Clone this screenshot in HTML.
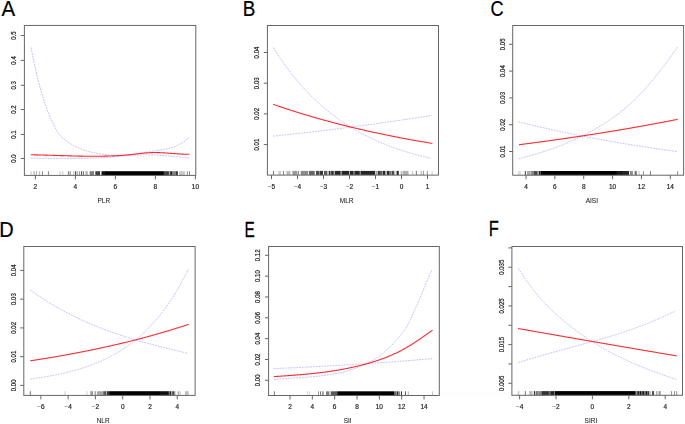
<!DOCTYPE html><html><head><meta charset="utf-8"><style>html,body{margin:0;padding:0;background:#fff;width:685px;height:424px;overflow:hidden}body{position:relative}svg{display:block}#m{will-change:transform;position:absolute;left:0;top:0}</style></head><body>
<svg id="l" xmlns="http://www.w3.org/2000/svg" width="685" height="424" viewBox="0 0 685 424"><text x="0" y="0" transform="translate(1.400 15.700) scale(0.20455 0.21594)" font-family='"Liberation Sans", sans-serif' font-size="100" fill="#000" stroke="#000" stroke-width="0.98">A</text><text x="0" y="0" transform="translate(242.791 15.500) scale(0.18868 0.21884)" font-family='"Liberation Sans", sans-serif' font-size="100" fill="#000" stroke="#000" stroke-width="1.06">B</text><text x="0" y="0" transform="translate(490.595 16.377) scale(0.18095 0.22254)" font-family='"Liberation Sans", sans-serif' font-size="100" fill="#000" stroke="#000" stroke-width="1.11">C</text><text x="0" y="0" transform="translate(-0.800 237.100) scale(0.20000 0.21884)" font-family='"Liberation Sans", sans-serif' font-size="100" fill="#000" stroke="#000" stroke-width="1.00">D</text><text x="0" y="0" transform="translate(244.570 236.600) scale(0.15370 0.22609)" font-family='"Liberation Sans", sans-serif' font-size="100" fill="#000" stroke="#000" stroke-width="1.30">E</text><text x="0" y="0" transform="translate(488.678 235.900) scale(0.16531 0.21739)" font-family='"Liberation Sans", sans-serif' font-size="100" fill="#000" stroke="#000" stroke-width="1.21">F</text></svg>
<svg id="m" xmlns="http://www.w3.org/2000/svg" width="685" height="424" viewBox="0 0 685 424">
<g><rect x="30" y="171.20" width="1" height="4.20" fill="#000" fill-opacity="0.09"/><rect x="31" y="171.20" width="1" height="4.20" fill="#000" fill-opacity="0.14"/><rect x="33" y="171.20" width="1" height="4.20" fill="#000" fill-opacity="0.16"/><rect x="34" y="171.20" width="1" height="4.20" fill="#000" fill-opacity="0.23"/><rect x="35" y="171.20" width="1" height="4.20" fill="#000" fill-opacity="0.01"/><rect x="36" y="171.20" width="1" height="4.20" fill="#000" fill-opacity="0.30"/><rect x="37" y="171.20" width="2" height="4.20" fill="#000" fill-opacity="0.02"/><rect x="39" y="171.20" width="1" height="4.20" fill="#000" fill-opacity="0.26"/><rect x="40" y="171.20" width="1" height="4.20" fill="#000" fill-opacity="0.05"/><rect x="42" y="171.20" width="1" height="4.20" fill="#000" fill-opacity="0.45"/><rect x="47" y="171.20" width="1" height="4.20" fill="#000" fill-opacity="0.03"/><rect x="48" y="171.20" width="1" height="4.20" fill="#000" fill-opacity="0.43"/><rect x="59" y="171.20" width="2" height="4.20" fill="#000" fill-opacity="0.11"/><rect x="62" y="171.20" width="1" height="4.20" fill="#000" fill-opacity="0.16"/><rect x="63" y="171.20" width="1" height="4.20" fill="#000" fill-opacity="0.06"/><rect x="67" y="171.20" width="1" height="4.20" fill="#000" fill-opacity="0.03"/><rect x="68" y="171.20" width="1" height="4.20" fill="#000" fill-opacity="0.47"/><rect x="69" y="171.20" width="1" height="4.20" fill="#000" fill-opacity="0.19"/><rect x="70" y="171.20" width="1" height="4.20" fill="#000" fill-opacity="0.30"/><rect x="73" y="171.20" width="1" height="4.20" fill="#000" fill-opacity="0.21"/><rect x="74" y="171.20" width="1" height="4.20" fill="#000" fill-opacity="0.05"/><rect x="75" y="171.20" width="1" height="4.20" fill="#000" fill-opacity="0.68"/><rect x="76" y="171.20" width="1" height="4.20" fill="#000" fill-opacity="0.18"/><rect x="77" y="171.20" width="1" height="4.20" fill="#000" fill-opacity="0.27"/><rect x="78" y="171.20" width="1" height="4.20" fill="#000" fill-opacity="0.08"/><rect x="79" y="171.20" width="1" height="4.20" fill="#000" fill-opacity="0.38"/><rect x="80" y="171.20" width="1" height="4.20" fill="#000" fill-opacity="0.04"/><rect x="81" y="171.20" width="1" height="4.20" fill="#000" fill-opacity="0.64"/><rect x="82" y="171.20" width="1" height="4.20" fill="#000" fill-opacity="0.12"/><rect x="83" y="171.20" width="1" height="4.20" fill="#000" fill-opacity="0.47"/><rect x="84" y="171.20" width="1" height="4.20" fill="#000" fill-opacity="0.06"/><rect x="85" y="171.20" width="1" height="4.20" fill="#000" fill-opacity="0.18"/><rect x="86" y="171.20" width="1" height="4.20" fill="#000" fill-opacity="0.29"/><rect x="87" y="171.20" width="1" height="4.20" fill="#000" fill-opacity="0.26"/><rect x="89" y="171.20" width="1" height="4.20" fill="#000" fill-opacity="0.20"/><rect x="90" y="171.20" width="4" height="4.20" fill="#000" fill-opacity="0.50"/><rect x="95" y="171.20" width="1" height="4.20" fill="#000" fill-opacity="0.53"/><rect x="96" y="171.20" width="4" height="4.20" fill="#000" fill-opacity="0.75"/><rect x="100" y="171.20" width="1" height="4.20" fill="#000" fill-opacity="0.07"/><rect x="101" y="171.20" width="1" height="4.20" fill="#000" fill-opacity="0.46"/><rect x="102" y="171.20" width="3" height="4.20" fill="#000" fill-opacity="0.92"/><rect x="105" y="171.20" width="58" height="4.20" fill="#000" fill-opacity="1.00"/><rect x="163" y="171.20" width="1" height="4.20" fill="#000" fill-opacity="0.90"/><rect x="164" y="171.20" width="4" height="4.20" fill="#000" fill-opacity="0.75"/><rect x="168" y="171.20" width="1" height="4.20" fill="#000" fill-opacity="0.71"/><rect x="169" y="171.20" width="1" height="4.20" fill="#000" fill-opacity="0.35"/><rect x="170" y="171.20" width="1" height="4.20" fill="#000" fill-opacity="0.75"/><rect x="171" y="171.20" width="1" height="4.20" fill="#000" fill-opacity="0.85"/><rect x="172" y="171.20" width="4" height="4.20" fill="#000" fill-opacity="0.50"/><rect x="176" y="171.20" width="1" height="4.20" fill="#000" fill-opacity="0.79"/><rect x="177" y="171.20" width="1" height="4.20" fill="#000" fill-opacity="0.69"/><rect x="179" y="171.20" width="6" height="4.20" fill="#000" fill-opacity="0.22"/><rect x="186" y="171.20" width="1" height="4.20" fill="#000" fill-opacity="0.07"/><rect x="187" y="171.20" width="1" height="4.20" fill="#000" fill-opacity="0.38"/><rect x="189" y="171.20" width="1" height="4.20" fill="#000" fill-opacity="0.45"/><rect x="24.40" y="25.45" width="171.40" height="149.95" fill="none" stroke="#666" stroke-width="1"/><line x1="20.80" y1="158.50" x2="24.40" y2="158.50" stroke="#666" stroke-width="1"/><text transform="translate(16.20 158.50) rotate(-90) scale(1 1.12)" text-anchor="middle" font-family='"Liberation Sans", sans-serif' font-size="6.10" fill="#222" stroke="#222" stroke-width="0.18">0.0</text><line x1="20.80" y1="134.50" x2="24.40" y2="134.50" stroke="#666" stroke-width="1"/><text transform="translate(16.20 134.50) rotate(-90) scale(1 1.12)" text-anchor="middle" font-family='"Liberation Sans", sans-serif' font-size="6.10" fill="#222" stroke="#222" stroke-width="0.18">0.1</text><line x1="20.80" y1="109.50" x2="24.40" y2="109.50" stroke="#666" stroke-width="1"/><text transform="translate(16.20 109.50) rotate(-90) scale(1 1.12)" text-anchor="middle" font-family='"Liberation Sans", sans-serif' font-size="6.10" fill="#222" stroke="#222" stroke-width="0.18">0.2</text><line x1="20.80" y1="85.30" x2="24.40" y2="85.30" stroke="#666" stroke-width="1"/><text transform="translate(16.20 85.30) rotate(-90) scale(1 1.12)" text-anchor="middle" font-family='"Liberation Sans", sans-serif' font-size="6.10" fill="#222" stroke="#222" stroke-width="0.18">0.3</text><line x1="20.80" y1="60.40" x2="24.40" y2="60.40" stroke="#666" stroke-width="1"/><text transform="translate(16.20 60.40) rotate(-90) scale(1 1.12)" text-anchor="middle" font-family='"Liberation Sans", sans-serif' font-size="6.10" fill="#222" stroke="#222" stroke-width="0.18">0.4</text><line x1="20.80" y1="35.50" x2="24.40" y2="35.50" stroke="#666" stroke-width="1"/><text transform="translate(16.20 35.50) rotate(-90) scale(1 1.12)" text-anchor="middle" font-family='"Liberation Sans", sans-serif' font-size="6.10" fill="#222" stroke="#222" stroke-width="0.18">0.5</text><line x1="35.40" y1="175.40" x2="35.40" y2="179.40" stroke="#666" stroke-width="1"/><text x="35.40" y="189.10" text-anchor="middle" font-family='"Liberation Sans", sans-serif' font-size="6.50" fill="#222" stroke="#222" stroke-width="0.18">2</text><line x1="75.40" y1="175.40" x2="75.40" y2="179.40" stroke="#666" stroke-width="1"/><text x="75.40" y="189.10" text-anchor="middle" font-family='"Liberation Sans", sans-serif' font-size="6.50" fill="#222" stroke="#222" stroke-width="0.18">4</text><line x1="115.40" y1="175.40" x2="115.40" y2="179.40" stroke="#666" stroke-width="1"/><text x="115.40" y="189.10" text-anchor="middle" font-family='"Liberation Sans", sans-serif' font-size="6.50" fill="#222" stroke="#222" stroke-width="0.18">6</text><line x1="155.40" y1="175.40" x2="155.40" y2="179.40" stroke="#666" stroke-width="1"/><text x="155.40" y="189.10" text-anchor="middle" font-family='"Liberation Sans", sans-serif' font-size="6.50" fill="#222" stroke="#222" stroke-width="0.18">8</text><line x1="195.40" y1="175.40" x2="195.40" y2="179.40" stroke="#666" stroke-width="1"/><text x="195.40" y="189.10" text-anchor="middle" font-family='"Liberation Sans", sans-serif' font-size="6.50" fill="#222" stroke="#222" stroke-width="0.18">10</text><text x="103.80" y="203.20" text-anchor="middle" font-family='"Liberation Sans", sans-serif' font-size="6.50" fill="#222" stroke="#222" stroke-width="0.06">PLR</text><path d="M31.00 47.51 L31.50 49.92 L32.00 52.33 L32.50 54.74 L33.00 57.13 L33.50 59.52 L34.00 61.88 L34.50 64.22 L35.00 66.53 L35.50 68.80 L36.00 71.03 L36.50 73.22 L37.00 75.36 L37.50 77.45 L38.00 79.48 L38.50 81.46 L39.00 83.39 L39.50 85.28 L40.00 87.12 L40.50 88.91 L41.00 90.67 L41.50 92.40 L42.00 94.09 L42.50 95.75 L43.00 97.37 L43.50 98.98 L44.00 100.55 L44.50 102.11 L45.00 103.65 L45.50 105.17 L46.00 106.66 L46.50 108.11 L47.00 109.51 L47.50 110.86 L48.00 112.15 L48.50 113.37 L49.00 114.53 L49.50 115.66 L50.00 116.75 L50.50 117.82 L51.00 118.88 L51.50 119.94 L52.00 121.00 L52.50 122.08 L53.00 123.16 L53.50 124.23 L54.00 125.30 L54.50 126.35 L55.00 127.37 L55.50 128.37 L56.00 129.34 L56.50 130.27 L57.00 131.16 L57.50 132.00 L58.00 132.79 L58.50 133.51 L59.00 134.17 L59.50 134.78 L60.00 135.34 L60.50 135.86 L61.00 136.35 L61.50 136.82 L62.00 137.27 L62.50 137.71 L63.00 138.14 L63.50 138.56 L64.00 138.98 L64.50 139.38 L65.00 139.78 L65.50 140.17 L66.00 140.56 L66.50 140.93 L67.00 141.30 L67.50 141.66 L68.00 142.02 L68.50 142.36 L69.00 142.70 L69.50 143.03 L70.00 143.36 L70.50 143.68 L71.00 143.99 L71.50 144.30 L72.00 144.59 L72.50 144.89 L73.00 145.17 L73.50 145.45 L74.00 145.72 L74.50 145.99 L75.00 146.25 L75.50 146.51 L76.00 146.76 L76.50 147.00 L77.00 147.24 L77.50 147.47 L78.00 147.70 L78.50 147.92 L79.00 148.14 L79.50 148.35 L80.00 148.56 L80.50 148.76 L81.00 148.96 L81.50 149.15 L82.00 149.34 L82.50 149.52 L83.00 149.70 L83.50 149.88 L84.00 150.05 L84.50 150.21 L85.00 150.38 L85.50 150.53 L86.00 150.69 L86.50 150.84 L87.00 150.99 L87.50 151.13 L88.00 151.27 L88.50 151.41 L89.00 151.54 L89.50 151.68 L90.00 151.80 L90.50 151.93 L91.00 152.05 L91.50 152.17 L92.00 152.29 L92.50 152.40 L93.00 152.51 L93.50 152.62 L94.00 152.73 L94.50 152.84 L95.00 152.94 L95.50 153.04 L96.00 153.14 L96.50 153.24 L97.00 153.33 L97.50 153.43 L98.00 153.52 L98.50 153.61 L99.00 153.69 L99.50 153.78 L100.00 153.86 L100.50 153.94 L101.00 154.02 L101.50 154.10 L102.00 154.17 L102.50 154.25 L103.00 154.32 L103.50 154.39 L104.00 154.45 L104.50 154.52 L105.00 154.58 L105.50 154.64 L106.00 154.70 L106.50 154.75 L107.00 154.81 L107.50 154.86 L108.00 154.91 L108.50 154.95 L109.00 155.00 L109.50 155.04 L110.00 155.08 L110.50 155.12 L111.00 155.15 L111.50 155.18 L112.00 155.22 L112.50 155.24 L113.00 155.27 L113.50 155.29 L114.00 155.31 L114.50 155.33 L115.00 155.35 L115.50 155.36 L116.00 155.37 L116.50 155.38 L117.00 155.39 L117.50 155.39 L118.00 155.40 L118.50 155.40 L119.00 155.39 L119.50 155.39 L120.00 155.38 L120.50 155.37 L121.00 155.35 L121.50 155.34 L122.00 155.32 L122.50 155.30 L123.00 155.28 L123.50 155.25 L124.00 155.22 L124.50 155.19 L125.00 155.16 L125.50 155.12 L126.00 155.08 L126.50 155.04 L127.00 155.00 L127.50 154.96 L128.00 154.91 L128.50 154.86 L129.00 154.81 L129.50 154.76 L130.00 154.71 L130.50 154.65 L131.00 154.60 L131.50 154.54 L132.00 154.48 L132.50 154.42 L133.00 154.35 L133.50 154.29 L134.00 154.22 L134.50 154.15 L135.00 154.09 L135.50 154.02 L136.00 153.94 L136.50 153.87 L137.00 153.80 L137.50 153.72 L138.00 153.65 L138.50 153.57 L139.00 153.49 L139.50 153.42 L140.00 153.34 L140.50 153.26 L141.00 153.18 L141.50 153.09 L142.00 153.01 L142.50 152.93 L143.00 152.85 L143.50 152.76 L144.00 152.68 L144.50 152.60 L145.00 152.51 L145.50 152.43 L146.00 152.34 L146.50 152.26 L147.00 152.17 L147.50 152.09 L148.00 152.01 L148.50 151.92 L149.00 151.84 L149.50 151.75 L150.00 151.67 L150.50 151.58 L151.00 151.50 L151.50 151.42 L152.00 151.33 L152.50 151.25 L153.00 151.17 L153.50 151.09 L154.00 151.01 L154.50 150.93 L155.00 150.85 L155.50 150.77 L156.00 150.69 L156.50 150.62 L157.00 150.54 L157.50 150.47 L158.00 150.39 L158.50 150.32 L159.00 150.24 L159.50 150.17 L160.00 150.09 L160.50 150.01 L161.00 149.93 L161.50 149.85 L162.00 149.77 L162.50 149.69 L163.00 149.61 L163.50 149.52 L164.00 149.43 L164.50 149.34 L165.00 149.25 L165.50 149.15 L166.00 149.05 L166.50 148.95 L167.00 148.84 L167.50 148.73 L168.00 148.62 L168.50 148.50 L169.00 148.38 L169.50 148.25 L170.00 148.12 L170.50 147.98 L171.00 147.84 L171.50 147.69 L172.00 147.54 L172.50 147.38 L173.00 147.21 L173.50 147.04 L174.00 146.86 L174.50 146.68 L175.00 146.48 L175.50 146.29 L176.00 146.08 L176.50 145.86 L177.00 145.64 L177.50 145.41 L178.00 145.18 L178.50 144.93 L179.00 144.67 L179.50 144.41 L180.00 144.14 L180.50 143.86 L181.00 143.56 L181.50 143.26 L182.00 142.95 L182.50 142.63 L183.00 142.30 L183.50 141.96 L184.00 141.61 L184.50 141.24 L185.00 140.87 L185.50 140.48 L186.00 140.08 L186.50 139.68 L187.00 139.25 L187.50 138.82 L188.00 138.37 L188.50 137.92 L189.00 137.44 L189.20 137.25" fill="none" stroke="#6f6fff" stroke-width="0.9" stroke-dasharray="1.8 1" stroke-opacity="0.5"/><path d="M30.80 158.27 L31.30 158.27 L31.80 158.27 L32.30 158.26 L32.80 158.26 L33.30 158.26 L33.80 158.26 L34.30 158.26 L34.80 158.26 L35.30 158.26 L35.80 158.26 L36.30 158.26 L36.80 158.26 L37.30 158.26 L37.80 158.26 L38.30 158.26 L38.80 158.26 L39.30 158.26 L39.80 158.27 L40.30 158.27 L40.80 158.27 L41.30 158.27 L41.80 158.27 L42.30 158.28 L42.80 158.28 L43.30 158.28 L43.80 158.28 L44.30 158.29 L44.80 158.29 L45.30 158.29 L45.80 158.29 L46.30 158.30 L46.80 158.30 L47.30 158.30 L47.80 158.31 L48.30 158.31 L48.80 158.31 L49.30 158.32 L49.80 158.32 L50.30 158.33 L50.80 158.33 L51.30 158.33 L51.80 158.34 L52.30 158.34 L52.80 158.34 L53.30 158.35 L53.80 158.35 L54.30 158.36 L54.80 158.36 L55.30 158.36 L55.80 158.37 L56.30 158.37 L56.80 158.37 L57.30 158.38 L57.80 158.38 L58.30 158.38 L58.80 158.39 L59.30 158.39 L59.80 158.39 L60.30 158.40 L60.80 158.40 L61.30 158.40 L61.80 158.41 L62.30 158.41 L62.80 158.41 L63.30 158.41 L63.80 158.42 L64.30 158.42 L64.80 158.42 L65.30 158.42 L65.80 158.42 L66.30 158.43 L66.80 158.43 L67.30 158.43 L67.80 158.43 L68.30 158.43 L68.80 158.43 L69.30 158.43 L69.80 158.43 L70.30 158.43 L70.80 158.43 L71.30 158.43 L71.80 158.43 L72.30 158.43 L72.80 158.43 L73.30 158.42 L73.80 158.42 L74.30 158.42 L74.80 158.42 L75.30 158.42 L75.80 158.41 L76.30 158.41 L76.80 158.41 L77.30 158.40 L77.80 158.40 L78.30 158.39 L78.80 158.39 L79.30 158.38 L79.80 158.38 L80.30 158.37 L80.80 158.36 L81.30 158.36 L81.80 158.35 L82.30 158.34 L82.80 158.34 L83.30 158.33 L83.80 158.32 L84.30 158.31 L84.80 158.30 L85.30 158.29 L85.80 158.28 L86.30 158.27 L86.80 158.26 L87.30 158.25 L87.80 158.23 L88.30 158.22 L88.80 158.21 L89.30 158.19 L89.80 158.18 L90.30 158.17 L90.80 158.15 L91.30 158.14 L91.80 158.12 L92.30 158.10 L92.80 158.09 L93.30 158.07 L93.80 158.05 L94.30 158.03 L94.80 158.01 L95.30 157.99 L95.80 157.97 L96.30 157.95 L96.80 157.93 L97.30 157.91 L97.80 157.89 L98.30 157.86 L98.80 157.84 L99.30 157.81 L99.80 157.79 L100.30 157.76 L100.80 157.74 L101.30 157.71 L101.80 157.68 L102.30 157.65 L102.80 157.63 L103.30 157.60 L103.80 157.57 L104.30 157.53 L104.80 157.50 L105.30 157.47 L105.80 157.44 L106.30 157.40 L106.80 157.37 L107.30 157.34 L107.80 157.30 L108.30 157.26 L108.80 157.23 L109.30 157.19 L109.80 157.15 L110.30 157.11 L110.80 157.07 L111.30 157.03 L111.80 156.99 L112.30 156.95 L112.80 156.90 L113.30 156.86 L113.80 156.82 L114.30 156.77 L114.80 156.73 L115.30 156.68 L115.80 156.64 L116.30 156.59 L116.80 156.55 L117.30 156.50 L117.80 156.46 L118.30 156.41 L118.80 156.36 L119.30 156.32 L119.80 156.27 L120.30 156.23 L120.80 156.18 L121.30 156.14 L121.80 156.09 L122.30 156.05 L122.80 156.00 L123.30 155.96 L123.80 155.91 L124.30 155.87 L124.80 155.83 L125.30 155.79 L125.80 155.74 L126.30 155.70 L126.80 155.66 L127.30 155.62 L127.80 155.58 L128.30 155.55 L128.80 155.51 L129.30 155.47 L129.80 155.44 L130.30 155.40 L130.80 155.37 L131.30 155.34 L131.80 155.31 L132.30 155.28 L132.80 155.25 L133.30 155.22 L133.80 155.19 L134.30 155.16 L134.80 155.14 L135.30 155.11 L135.80 155.09 L136.30 155.07 L136.80 155.05 L137.30 155.03 L137.80 155.01 L138.30 154.99 L138.80 154.97 L139.30 154.96 L139.80 154.94 L140.30 154.93 L140.80 154.91 L141.30 154.90 L141.80 154.89 L142.30 154.88 L142.80 154.87 L143.30 154.86 L143.80 154.86 L144.30 154.85 L144.80 154.85 L145.30 154.84 L145.80 154.84 L146.30 154.84 L146.80 154.84 L147.30 154.84 L147.80 154.84 L148.30 154.84 L148.80 154.84 L149.30 154.85 L149.80 154.85 L150.30 154.86 L150.80 154.87 L151.30 154.88 L151.80 154.89 L152.30 154.90 L152.80 154.91 L153.30 154.92 L153.80 154.94 L154.30 154.95 L154.80 154.97 L155.30 154.99 L155.80 155.01 L156.30 155.03 L156.80 155.05 L157.30 155.07 L157.80 155.09 L158.30 155.11 L158.80 155.14 L159.30 155.17 L159.80 155.19 L160.30 155.22 L160.80 155.25 L161.30 155.28 L161.80 155.31 L162.30 155.34 L162.80 155.38 L163.30 155.41 L163.80 155.45 L164.30 155.49 L164.80 155.52 L165.30 155.56 L165.80 155.60 L166.30 155.64 L166.80 155.69 L167.30 155.73 L167.80 155.77 L168.30 155.82 L168.80 155.86 L169.30 155.91 L169.80 155.96 L170.30 156.01 L170.80 156.06 L171.30 156.11 L171.80 156.16 L172.30 156.21 L172.80 156.26 L173.30 156.31 L173.80 156.36 L174.30 156.41 L174.80 156.47 L175.30 156.52 L175.80 156.57 L176.30 156.63 L176.80 156.68 L177.30 156.73 L177.80 156.79 L178.30 156.84 L178.80 156.90 L179.30 156.95 L179.80 157.01 L180.30 157.06 L180.80 157.11 L181.30 157.17 L181.80 157.22 L182.30 157.27 L182.80 157.33 L183.30 157.38 L183.80 157.43 L184.30 157.48 L184.80 157.54 L185.30 157.59 L185.80 157.64 L186.30 157.69 L186.80 157.74 L187.30 157.78 L187.80 157.83 L188.30 157.88 L188.80 157.93 L189.20 157.96" fill="none" stroke="#6f6fff" stroke-width="0.9" stroke-dasharray="1.8 1" stroke-opacity="0.5"/><path d="M30.80 154.76 L31.30 154.77 L31.80 154.78 L32.30 154.79 L32.80 154.80 L33.30 154.81 L33.80 154.82 L34.30 154.83 L34.80 154.84 L35.30 154.85 L35.80 154.86 L36.30 154.87 L36.80 154.88 L37.30 154.89 L37.80 154.91 L38.30 154.92 L38.80 154.93 L39.30 154.94 L39.80 154.96 L40.30 154.97 L40.80 154.98 L41.30 154.99 L41.80 155.01 L42.30 155.02 L42.80 155.03 L43.30 155.05 L43.80 155.06 L44.30 155.08 L44.80 155.09 L45.30 155.11 L45.80 155.12 L46.30 155.14 L46.80 155.15 L47.30 155.17 L47.80 155.18 L48.30 155.20 L48.80 155.21 L49.30 155.23 L49.80 155.24 L50.30 155.26 L50.80 155.27 L51.30 155.29 L51.80 155.31 L52.30 155.32 L52.80 155.34 L53.30 155.35 L53.80 155.37 L54.30 155.39 L54.80 155.40 L55.30 155.42 L55.80 155.43 L56.30 155.45 L56.80 155.47 L57.30 155.48 L57.80 155.50 L58.30 155.51 L58.80 155.53 L59.30 155.55 L59.80 155.56 L60.30 155.58 L60.80 155.59 L61.30 155.61 L61.80 155.63 L62.30 155.64 L62.80 155.66 L63.30 155.67 L63.80 155.69 L64.30 155.71 L64.80 155.72 L65.30 155.74 L65.80 155.75 L66.30 155.77 L66.80 155.78 L67.30 155.80 L67.80 155.81 L68.30 155.83 L68.80 155.84 L69.30 155.86 L69.80 155.87 L70.30 155.88 L70.80 155.90 L71.30 155.91 L71.80 155.92 L72.30 155.94 L72.80 155.95 L73.30 155.96 L73.80 155.98 L74.30 155.99 L74.80 156.00 L75.30 156.01 L75.80 156.03 L76.30 156.04 L76.80 156.05 L77.30 156.06 L77.80 156.07 L78.30 156.08 L78.80 156.09 L79.30 156.10 L79.80 156.11 L80.30 156.12 L80.80 156.13 L81.30 156.14 L81.80 156.15 L82.30 156.16 L82.80 156.17 L83.30 156.18 L83.80 156.18 L84.30 156.19 L84.80 156.20 L85.30 156.21 L85.80 156.21 L86.30 156.22 L86.80 156.22 L87.30 156.23 L87.80 156.23 L88.30 156.24 L88.80 156.24 L89.30 156.25 L89.80 156.25 L90.30 156.25 L90.80 156.26 L91.30 156.26 L91.80 156.26 L92.30 156.26 L92.80 156.26 L93.30 156.26 L93.80 156.26 L94.30 156.26 L94.80 156.26 L95.30 156.26 L95.80 156.26 L96.30 156.26 L96.80 156.26 L97.30 156.25 L97.80 156.25 L98.30 156.25 L98.80 156.24 L99.30 156.24 L99.80 156.23 L100.30 156.23 L100.80 156.22 L101.30 156.21 L101.80 156.20 L102.30 156.20 L102.80 156.19 L103.30 156.18 L103.80 156.17 L104.30 156.16 L104.80 156.15 L105.30 156.14 L105.80 156.12 L106.30 156.11 L106.80 156.10 L107.30 156.09 L107.80 156.07 L108.30 156.06 L108.80 156.04 L109.30 156.02 L109.80 156.01 L110.30 155.99 L110.80 155.97 L111.30 155.95 L111.80 155.94 L112.30 155.92 L112.80 155.89 L113.30 155.87 L113.80 155.85 L114.30 155.83 L114.80 155.81 L115.30 155.78 L115.80 155.76 L116.30 155.73 L116.80 155.71 L117.30 155.68 L117.80 155.65 L118.30 155.62 L118.80 155.59 L119.30 155.56 L119.80 155.53 L120.30 155.50 L120.80 155.47 L121.30 155.44 L121.80 155.41 L122.30 155.37 L122.80 155.34 L123.30 155.30 L123.80 155.26 L124.30 155.22 L124.80 155.18 L125.30 155.14 L125.80 155.10 L126.30 155.06 L126.80 155.02 L127.30 154.97 L127.80 154.93 L128.30 154.88 L128.80 154.83 L129.30 154.78 L129.80 154.73 L130.30 154.67 L130.80 154.62 L131.30 154.57 L131.80 154.51 L132.30 154.45 L132.80 154.39 L133.30 154.34 L133.80 154.28 L134.30 154.22 L134.80 154.16 L135.30 154.10 L135.80 154.04 L136.30 153.98 L136.80 153.92 L137.30 153.86 L137.80 153.80 L138.30 153.74 L138.80 153.68 L139.30 153.62 L139.80 153.56 L140.30 153.51 L140.80 153.45 L141.30 153.40 L141.80 153.34 L142.30 153.29 L142.80 153.24 L143.30 153.19 L143.80 153.14 L144.30 153.09 L144.80 153.05 L145.30 153.00 L145.80 152.96 L146.30 152.92 L146.80 152.88 L147.30 152.84 L147.80 152.81 L148.30 152.78 L148.80 152.75 L149.30 152.72 L149.80 152.69 L150.30 152.67 L150.80 152.64 L151.30 152.63 L151.80 152.61 L152.30 152.59 L152.80 152.58 L153.30 152.57 L153.80 152.57 L154.30 152.56 L154.80 152.56 L155.30 152.56 L155.80 152.57 L156.30 152.57 L156.80 152.58 L157.30 152.59 L157.80 152.60 L158.30 152.61 L158.80 152.62 L159.30 152.64 L159.80 152.66 L160.30 152.68 L160.80 152.70 L161.30 152.72 L161.80 152.74 L162.30 152.77 L162.80 152.80 L163.30 152.82 L163.80 152.85 L164.30 152.88 L164.80 152.91 L165.30 152.94 L165.80 152.98 L166.30 153.01 L166.80 153.05 L167.30 153.08 L167.80 153.12 L168.30 153.15 L168.80 153.19 L169.30 153.23 L169.80 153.26 L170.30 153.30 L170.80 153.34 L171.30 153.38 L171.80 153.41 L172.30 153.45 L172.80 153.49 L173.30 153.53 L173.80 153.57 L174.30 153.61 L174.80 153.64 L175.30 153.68 L175.80 153.72 L176.30 153.75 L176.80 153.79 L177.30 153.82 L177.80 153.86 L178.30 153.89 L178.80 153.92 L179.30 153.96 L179.80 153.99 L180.30 154.02 L180.80 154.05 L181.30 154.07 L181.80 154.10 L182.30 154.13 L182.80 154.15 L183.30 154.17 L183.80 154.19 L184.30 154.21 L184.80 154.23 L185.30 154.25 L185.80 154.26 L186.30 154.27 L186.80 154.28 L187.30 154.29 L187.80 154.30 L188.30 154.31 L188.80 154.31 L189.30 154.31 L189.40 154.31" fill="none" stroke="#ff2a30" stroke-width="1.1"/></g>
<g><rect x="272" y="170.90" width="1" height="4.20" fill="#000" fill-opacity="0.03"/><rect x="273" y="170.90" width="1" height="4.20" fill="#000" fill-opacity="0.51"/><rect x="278" y="170.90" width="1" height="4.20" fill="#000" fill-opacity="0.12"/><rect x="279" y="170.90" width="2" height="4.20" fill="#000" fill-opacity="0.20"/><rect x="282" y="170.90" width="1" height="4.20" fill="#000" fill-opacity="0.03"/><rect x="283" y="170.90" width="1" height="4.20" fill="#000" fill-opacity="0.47"/><rect x="286" y="170.90" width="1" height="4.20" fill="#000" fill-opacity="0.17"/><rect x="287" y="170.90" width="3" height="4.20" fill="#000" fill-opacity="0.25"/><rect x="290" y="170.90" width="1" height="4.20" fill="#000" fill-opacity="0.15"/><rect x="292" y="170.90" width="1" height="4.20" fill="#000" fill-opacity="0.24"/><rect x="293" y="170.90" width="4" height="4.20" fill="#000" fill-opacity="0.40"/><rect x="297" y="170.90" width="1" height="4.20" fill="#000" fill-opacity="0.17"/><rect x="298" y="170.90" width="1" height="4.20" fill="#000" fill-opacity="0.45"/><rect x="300" y="170.90" width="1" height="4.20" fill="#000" fill-opacity="0.14"/><rect x="301" y="170.90" width="7" height="4.20" fill="#000" fill-opacity="0.45"/><rect x="308" y="170.90" width="1" height="4.20" fill="#000" fill-opacity="0.09"/><rect x="309" y="170.90" width="5" height="4.20" fill="#000" fill-opacity="0.60"/><rect x="314" y="170.90" width="1" height="4.20" fill="#000" fill-opacity="0.42"/><rect x="316" y="170.90" width="3" height="4.20" fill="#000" fill-opacity="0.70"/><rect x="319" y="170.90" width="1" height="4.20" fill="#000" fill-opacity="0.42"/><rect x="320" y="170.90" width="3" height="4.20" fill="#000" fill-opacity="0.80"/><rect x="324" y="170.90" width="3" height="4.20" fill="#000" fill-opacity="0.65"/><rect x="327" y="170.90" width="2" height="4.20" fill="#000" fill-opacity="0.25"/><rect x="329" y="170.90" width="1" height="4.20" fill="#000" fill-opacity="0.85"/><rect x="330" y="170.90" width="1" height="4.20" fill="#000" fill-opacity="0.47"/><rect x="331" y="170.90" width="1" height="4.20" fill="#000" fill-opacity="0.68"/><rect x="332" y="170.90" width="1" height="4.20" fill="#000" fill-opacity="0.85"/><rect x="333" y="170.90" width="1" height="4.20" fill="#000" fill-opacity="0.60"/><rect x="334" y="170.90" width="1" height="4.20" fill="#000" fill-opacity="0.35"/><rect x="335" y="170.90" width="5" height="4.20" fill="#000" fill-opacity="0.85"/><rect x="340" y="170.90" width="1" height="4.20" fill="#000" fill-opacity="0.57"/><rect x="341" y="170.90" width="1" height="4.20" fill="#000" fill-opacity="0.41"/><rect x="342" y="170.90" width="7" height="4.20" fill="#000" fill-opacity="0.85"/><rect x="349" y="170.90" width="1" height="4.20" fill="#000" fill-opacity="0.30"/><rect x="350" y="170.90" width="3" height="4.20" fill="#000" fill-opacity="0.85"/><rect x="353" y="170.90" width="2" height="4.20" fill="#000" fill-opacity="0.57"/><rect x="355" y="170.90" width="4" height="4.20" fill="#000" fill-opacity="0.85"/><rect x="359" y="170.90" width="1" height="4.20" fill="#000" fill-opacity="0.68"/><rect x="360" y="170.90" width="1" height="4.20" fill="#000" fill-opacity="0.47"/><rect x="361" y="170.90" width="14" height="4.20" fill="#000" fill-opacity="0.85"/><rect x="375" y="170.90" width="1" height="4.20" fill="#000" fill-opacity="0.20"/><rect x="376" y="170.90" width="1" height="4.20" fill="#000" fill-opacity="0.35"/><rect x="377" y="170.90" width="1" height="4.20" fill="#000" fill-opacity="0.30"/><rect x="378" y="170.90" width="2" height="4.20" fill="#000" fill-opacity="0.75"/><rect x="380" y="170.90" width="2" height="4.20" fill="#000" fill-opacity="0.65"/><rect x="382" y="170.90" width="1" height="4.20" fill="#000" fill-opacity="0.39"/><rect x="383" y="170.90" width="2" height="4.20" fill="#000" fill-opacity="0.85"/><rect x="385" y="170.90" width="1" height="4.20" fill="#000" fill-opacity="0.38"/><rect x="386" y="170.90" width="1" height="4.20" fill="#000" fill-opacity="0.24"/><rect x="387" y="170.90" width="2" height="4.20" fill="#000" fill-opacity="0.85"/><rect x="389" y="170.90" width="1" height="4.20" fill="#000" fill-opacity="0.51"/><rect x="390" y="170.90" width="1" height="4.20" fill="#000" fill-opacity="0.55"/><rect x="391" y="170.90" width="1" height="4.20" fill="#000" fill-opacity="0.36"/><rect x="392" y="170.90" width="2" height="4.20" fill="#000" fill-opacity="0.70"/><rect x="394" y="170.90" width="1" height="4.20" fill="#000" fill-opacity="0.23"/><rect x="395" y="170.90" width="1" height="4.20" fill="#000" fill-opacity="0.14"/><rect x="396" y="170.90" width="1" height="4.20" fill="#000" fill-opacity="0.34"/><rect x="397" y="170.90" width="1" height="4.20" fill="#000" fill-opacity="0.85"/><rect x="398" y="170.90" width="1" height="4.20" fill="#000" fill-opacity="0.68"/><rect x="400" y="170.90" width="1" height="4.20" fill="#000" fill-opacity="0.10"/><rect x="401" y="170.90" width="1" height="4.20" fill="#000" fill-opacity="0.25"/><rect x="402" y="170.90" width="1" height="4.20" fill="#000" fill-opacity="0.13"/><rect x="403" y="170.90" width="5" height="4.20" fill="#000" fill-opacity="0.30"/><rect x="408" y="170.90" width="1" height="4.20" fill="#000" fill-opacity="0.15"/><rect x="412" y="170.90" width="1" height="4.20" fill="#000" fill-opacity="0.19"/><rect x="413" y="170.90" width="1" height="4.20" fill="#000" fill-opacity="0.07"/><rect x="415" y="170.90" width="1" height="4.20" fill="#000" fill-opacity="0.09"/><rect x="416" y="170.90" width="1" height="4.20" fill="#000" fill-opacity="0.45"/><rect x="420" y="170.90" width="1" height="4.20" fill="#000" fill-opacity="0.09"/><rect x="421" y="170.90" width="1" height="4.20" fill="#000" fill-opacity="0.23"/><rect x="422" y="170.90" width="1" height="4.20" fill="#000" fill-opacity="0.02"/><rect x="423" y="170.90" width="1" height="4.20" fill="#000" fill-opacity="0.38"/><rect x="426" y="170.90" width="1" height="4.20" fill="#000" fill-opacity="0.07"/><rect x="427" y="170.90" width="1" height="4.20" fill="#000" fill-opacity="0.34"/><rect x="431" y="170.90" width="1" height="4.20" fill="#000" fill-opacity="0.07"/><rect x="432" y="170.90" width="1" height="4.20" fill="#000" fill-opacity="0.11"/><rect x="267.40" y="25.50" width="171.10" height="149.60" fill="none" stroke="#666" stroke-width="1"/><line x1="263.80" y1="52.50" x2="267.40" y2="52.50" stroke="#666" stroke-width="1"/><text transform="translate(258.90 52.50) rotate(-90) scale(1 1.12)" text-anchor="middle" font-family='"Liberation Sans", sans-serif' font-size="6.10" fill="#222" stroke="#222" stroke-width="0.18">0.04</text><line x1="263.80" y1="83.20" x2="267.40" y2="83.20" stroke="#666" stroke-width="1"/><text transform="translate(258.90 83.20) rotate(-90) scale(1 1.12)" text-anchor="middle" font-family='"Liberation Sans", sans-serif' font-size="6.10" fill="#222" stroke="#222" stroke-width="0.18">0.03</text><line x1="263.80" y1="113.90" x2="267.40" y2="113.90" stroke="#666" stroke-width="1"/><text transform="translate(258.90 113.90) rotate(-90) scale(1 1.12)" text-anchor="middle" font-family='"Liberation Sans", sans-serif' font-size="6.10" fill="#222" stroke="#222" stroke-width="0.18">0.02</text><line x1="263.80" y1="144.60" x2="267.40" y2="144.60" stroke="#666" stroke-width="1"/><text transform="translate(258.90 144.60) rotate(-90) scale(1 1.12)" text-anchor="middle" font-family='"Liberation Sans", sans-serif' font-size="6.10" fill="#222" stroke="#222" stroke-width="0.18">0.01</text><line x1="271.50" y1="175.10" x2="271.50" y2="179.10" stroke="#666" stroke-width="1"/><text x="271.50" y="188.80" text-anchor="middle" font-family='"Liberation Sans", sans-serif' font-size="6.50" fill="#222" stroke="#222" stroke-width="0.18"><tspan fill="#555" stroke="none">−</tspan>5</text><line x1="297.50" y1="175.10" x2="297.50" y2="179.10" stroke="#666" stroke-width="1"/><text x="297.50" y="188.80" text-anchor="middle" font-family='"Liberation Sans", sans-serif' font-size="6.50" fill="#222" stroke="#222" stroke-width="0.18"><tspan fill="#555" stroke="none">−</tspan>4</text><line x1="323.50" y1="175.10" x2="323.50" y2="179.10" stroke="#666" stroke-width="1"/><text x="323.50" y="188.80" text-anchor="middle" font-family='"Liberation Sans", sans-serif' font-size="6.50" fill="#222" stroke="#222" stroke-width="0.18"><tspan fill="#555" stroke="none">−</tspan>3</text><line x1="349.50" y1="175.10" x2="349.50" y2="179.10" stroke="#666" stroke-width="1"/><text x="349.50" y="188.80" text-anchor="middle" font-family='"Liberation Sans", sans-serif' font-size="6.50" fill="#222" stroke="#222" stroke-width="0.18"><tspan fill="#555" stroke="none">−</tspan>2</text><line x1="375.50" y1="175.10" x2="375.50" y2="179.10" stroke="#666" stroke-width="1"/><text x="375.50" y="188.80" text-anchor="middle" font-family='"Liberation Sans", sans-serif' font-size="6.50" fill="#222" stroke="#222" stroke-width="0.18"><tspan fill="#555" stroke="none">−</tspan>1</text><line x1="401.50" y1="175.10" x2="401.50" y2="179.10" stroke="#666" stroke-width="1"/><text x="401.50" y="188.80" text-anchor="middle" font-family='"Liberation Sans", sans-serif' font-size="6.50" fill="#222" stroke="#222" stroke-width="0.18">0</text><line x1="427.50" y1="175.10" x2="427.50" y2="179.10" stroke="#666" stroke-width="1"/><text x="427.50" y="188.80" text-anchor="middle" font-family='"Liberation Sans", sans-serif' font-size="6.50" fill="#222" stroke="#222" stroke-width="0.18">1</text><text x="346.65" y="202.90" text-anchor="middle" font-family='"Liberation Sans", sans-serif' font-size="6.50" fill="#222" stroke="#222" stroke-width="0.06">MLR</text><path d="M273.30 47.52 L273.80 48.31 L274.30 49.11 L274.80 49.90 L275.30 50.68 L275.80 51.46 L276.30 52.23 L276.80 53.00 L277.30 53.77 L277.80 54.53 L278.30 55.28 L278.80 56.03 L279.30 56.78 L279.80 57.52 L280.30 58.26 L280.80 58.99 L281.30 59.72 L281.80 60.44 L282.30 61.16 L282.80 61.87 L283.30 62.58 L283.80 63.29 L284.30 63.99 L284.80 64.68 L285.30 65.38 L285.80 66.07 L286.30 66.75 L286.80 67.43 L287.30 68.10 L287.80 68.78 L288.30 69.44 L288.80 70.11 L289.30 70.76 L289.80 71.42 L290.30 72.07 L290.80 72.72 L291.30 73.36 L291.80 74.00 L292.30 74.63 L292.80 75.26 L293.30 75.89 L293.80 76.51 L294.30 77.13 L294.80 77.75 L295.30 78.36 L295.80 78.97 L296.30 79.57 L296.80 80.17 L297.30 80.77 L297.80 81.36 L298.30 81.95 L298.80 82.54 L299.30 83.12 L299.80 83.70 L300.30 84.27 L300.80 84.84 L301.30 85.41 L301.80 85.97 L302.30 86.53 L302.80 87.09 L303.30 87.65 L303.80 88.20 L304.30 88.74 L304.80 89.29 L305.30 89.83 L305.80 90.36 L306.30 90.90 L306.80 91.43 L307.30 91.96 L307.80 92.48 L308.30 93.00 L308.80 93.52 L309.30 94.03 L309.80 94.54 L310.30 95.05 L310.80 95.55 L311.30 96.06 L311.80 96.55 L312.30 97.05 L312.80 97.54 L313.30 98.03 L313.80 98.52 L314.30 99.00 L314.80 99.48 L315.30 99.96 L315.80 100.43 L316.30 100.90 L316.80 101.37 L317.30 101.84 L317.80 102.30 L318.30 102.76 L318.80 103.22 L319.30 103.67 L319.80 104.12 L320.30 104.57 L320.80 105.02 L321.30 105.46 L321.80 105.90 L322.30 106.34 L322.80 106.77 L323.30 107.20 L323.80 107.63 L324.30 108.06 L324.80 108.48 L325.30 108.91 L325.80 109.32 L326.30 109.74 L326.80 110.15 L327.30 110.57 L327.80 110.97 L328.30 111.38 L328.80 111.78 L329.30 112.19 L329.80 112.58 L330.30 112.98 L330.80 113.37 L331.30 113.77 L331.80 114.15 L332.30 114.54 L332.80 114.93 L333.30 115.31 L333.80 115.69 L334.30 116.06 L334.80 116.44 L335.30 116.81 L335.80 117.18 L336.30 117.55 L336.80 117.91 L337.30 118.28 L337.80 118.64 L338.30 119.00 L338.80 119.35 L339.30 119.71 L339.80 120.06 L340.30 120.41 L340.80 120.76 L341.30 121.10 L341.80 121.45 L342.30 121.79 L342.80 122.13 L343.30 122.46 L343.80 122.80 L344.30 123.13 L344.80 123.46 L345.30 123.79 L345.80 124.12 L346.30 124.44 L346.80 124.77 L347.30 125.09 L347.80 125.41 L348.30 125.72 L348.80 126.04 L349.30 126.35 L349.80 126.66 L350.30 126.97 L350.80 127.28 L351.30 127.59 L351.80 127.89 L352.30 128.19 L352.80 128.49 L353.30 128.79 L353.80 129.08 L354.30 129.38 L354.80 129.67 L355.30 129.96 L355.80 130.25 L356.30 130.54 L356.80 130.82 L357.30 131.11 L357.80 131.39 L358.30 131.67 L358.80 131.95 L359.30 132.22 L359.80 132.50 L360.30 132.77 L360.80 133.04 L361.30 133.31 L361.80 133.58 L362.30 133.85 L362.80 134.11 L363.30 134.37 L363.80 134.63 L364.30 134.89 L364.80 135.15 L365.30 135.41 L365.80 135.66 L366.30 135.92 L366.80 136.17 L367.30 136.42 L367.80 136.67 L368.30 136.92 L368.80 137.16 L369.30 137.41 L369.80 137.65 L370.30 137.89 L370.80 138.13 L371.30 138.37 L371.80 138.61 L372.30 138.84 L372.80 139.07 L373.30 139.31 L373.80 139.54 L374.30 139.77 L374.80 140.00 L375.30 140.22 L375.80 140.45 L376.30 140.67 L376.80 140.89 L377.30 141.12 L377.80 141.33 L378.30 141.55 L378.80 141.77 L379.30 141.99 L379.80 142.20 L380.30 142.41 L380.80 142.63 L381.30 142.84 L381.80 143.05 L382.30 143.25 L382.80 143.46 L383.30 143.66 L383.80 143.87 L384.30 144.07 L384.80 144.27 L385.30 144.47 L385.80 144.67 L386.30 144.87 L386.80 145.07 L387.30 145.26 L387.80 145.46 L388.30 145.65 L388.80 145.84 L389.30 146.03 L389.80 146.22 L390.30 146.41 L390.80 146.60 L391.30 146.78 L391.80 146.97 L392.30 147.15 L392.80 147.33 L393.30 147.51 L393.80 147.69 L394.30 147.87 L394.80 148.05 L395.30 148.23 L395.80 148.40 L396.30 148.58 L396.80 148.75 L397.30 148.93 L397.80 149.10 L398.30 149.27 L398.80 149.44 L399.30 149.61 L399.80 149.77 L400.30 149.94 L400.80 150.10 L401.30 150.27 L401.80 150.43 L402.30 150.59 L402.80 150.76 L403.30 150.92 L403.80 151.07 L404.30 151.23 L404.80 151.39 L405.30 151.55 L405.80 151.70 L406.30 151.86 L406.80 152.01 L407.30 152.16 L407.80 152.31 L408.30 152.46 L408.80 152.61 L409.30 152.76 L409.80 152.91 L410.30 153.06 L410.80 153.20 L411.30 153.35 L411.80 153.49 L412.30 153.64 L412.80 153.78 L413.30 153.92 L413.80 154.06 L414.30 154.20 L414.80 154.34 L415.30 154.48 L415.80 154.61 L416.30 154.75 L416.80 154.89 L417.30 155.02 L417.80 155.15 L418.30 155.29 L418.80 155.42 L419.30 155.55 L419.80 155.68 L420.30 155.81 L420.80 155.94 L421.30 156.07 L421.80 156.20 L422.30 156.32 L422.80 156.45 L423.30 156.57 L423.80 156.70 L424.30 156.82 L424.80 156.94 L425.30 157.07 L425.80 157.19 L426.30 157.31 L426.80 157.43 L427.30 157.55 L427.80 157.66 L428.30 157.78 L428.80 157.90 L429.30 158.01 L429.80 158.13 L430.30 158.24 L430.80 158.36 L431.30 158.47 L431.40 158.49" fill="none" stroke="#6f6fff" stroke-width="0.9" stroke-dasharray="1.8 1" stroke-opacity="0.5"/><path d="M273.20 136.15 L273.70 136.10 L274.20 136.04 L274.70 135.99 L275.20 135.94 L275.70 135.89 L276.20 135.83 L276.70 135.78 L277.20 135.73 L277.70 135.67 L278.20 135.62 L278.70 135.57 L279.20 135.52 L279.70 135.46 L280.20 135.41 L280.70 135.36 L281.20 135.30 L281.70 135.25 L282.20 135.20 L282.70 135.14 L283.20 135.09 L283.70 135.03 L284.20 134.98 L284.70 134.93 L285.20 134.87 L285.70 134.82 L286.20 134.76 L286.70 134.71 L287.20 134.66 L287.70 134.60 L288.20 134.55 L288.70 134.49 L289.20 134.44 L289.70 134.38 L290.20 134.33 L290.70 134.27 L291.20 134.22 L291.70 134.16 L292.20 134.11 L292.70 134.05 L293.20 134.00 L293.70 133.94 L294.20 133.89 L294.70 133.83 L295.20 133.78 L295.70 133.72 L296.20 133.67 L296.70 133.61 L297.20 133.56 L297.70 133.50 L298.20 133.44 L298.70 133.39 L299.20 133.33 L299.70 133.27 L300.20 133.22 L300.70 133.16 L301.20 133.11 L301.70 133.05 L302.20 132.99 L302.70 132.94 L303.20 132.88 L303.70 132.82 L304.20 132.77 L304.70 132.71 L305.20 132.65 L305.70 132.59 L306.20 132.54 L306.70 132.48 L307.20 132.42 L307.70 132.37 L308.20 132.31 L308.70 132.25 L309.20 132.19 L309.70 132.13 L310.20 132.08 L310.70 132.02 L311.20 131.96 L311.70 131.90 L312.20 131.84 L312.70 131.79 L313.20 131.73 L313.70 131.67 L314.20 131.61 L314.70 131.55 L315.20 131.49 L315.70 131.44 L316.20 131.38 L316.70 131.32 L317.20 131.26 L317.70 131.20 L318.20 131.14 L318.70 131.08 L319.20 131.02 L319.70 130.96 L320.20 130.90 L320.70 130.84 L321.20 130.78 L321.70 130.72 L322.20 130.66 L322.70 130.60 L323.20 130.54 L323.70 130.48 L324.20 130.42 L324.70 130.36 L325.20 130.30 L325.70 130.24 L326.20 130.18 L326.70 130.12 L327.20 130.06 L327.70 130.00 L328.20 129.94 L328.70 129.88 L329.20 129.82 L329.70 129.76 L330.20 129.70 L330.70 129.64 L331.20 129.57 L331.70 129.51 L332.20 129.45 L332.70 129.39 L333.20 129.33 L333.70 129.27 L334.20 129.20 L334.70 129.14 L335.20 129.08 L335.70 129.02 L336.20 128.96 L336.70 128.89 L337.20 128.83 L337.70 128.77 L338.20 128.71 L338.70 128.64 L339.20 128.58 L339.70 128.52 L340.20 128.46 L340.70 128.39 L341.20 128.33 L341.70 128.27 L342.20 128.20 L342.70 128.14 L343.20 128.08 L343.70 128.01 L344.20 127.95 L344.70 127.89 L345.20 127.82 L345.70 127.76 L346.20 127.69 L346.70 127.63 L347.20 127.57 L347.70 127.50 L348.20 127.44 L348.70 127.37 L349.20 127.31 L349.70 127.25 L350.20 127.18 L350.70 127.12 L351.20 127.05 L351.70 126.99 L352.20 126.92 L352.70 126.86 L353.20 126.79 L353.70 126.73 L354.20 126.66 L354.70 126.59 L355.20 126.53 L355.70 126.46 L356.20 126.40 L356.70 126.33 L357.20 126.27 L357.70 126.20 L358.20 126.13 L358.70 126.07 L359.20 126.00 L359.70 125.94 L360.20 125.87 L360.70 125.80 L361.20 125.74 L361.70 125.67 L362.20 125.60 L362.70 125.54 L363.20 125.47 L363.70 125.40 L364.20 125.33 L364.70 125.27 L365.20 125.20 L365.70 125.13 L366.20 125.07 L366.70 125.00 L367.20 124.93 L367.70 124.86 L368.20 124.79 L368.70 124.73 L369.20 124.66 L369.70 124.59 L370.20 124.52 L370.70 124.45 L371.20 124.38 L371.70 124.32 L372.20 124.25 L372.70 124.18 L373.20 124.11 L373.70 124.04 L374.20 123.97 L374.70 123.90 L375.20 123.83 L375.70 123.76 L376.20 123.69 L376.70 123.62 L377.20 123.56 L377.70 123.49 L378.20 123.42 L378.70 123.35 L379.20 123.28 L379.70 123.21 L380.20 123.14 L380.70 123.07 L381.20 122.99 L381.70 122.92 L382.20 122.85 L382.70 122.78 L383.20 122.71 L383.70 122.64 L384.20 122.57 L384.70 122.50 L385.20 122.43 L385.70 122.36 L386.20 122.29 L386.70 122.21 L387.20 122.14 L387.70 122.07 L388.20 122.00 L388.70 121.93 L389.20 121.86 L389.70 121.78 L390.20 121.71 L390.70 121.64 L391.20 121.57 L391.70 121.49 L392.20 121.42 L392.70 121.35 L393.20 121.28 L393.70 121.20 L394.20 121.13 L394.70 121.06 L395.20 120.98 L395.70 120.91 L396.20 120.84 L396.70 120.76 L397.20 120.69 L397.70 120.62 L398.20 120.54 L398.70 120.47 L399.20 120.39 L399.70 120.32 L400.20 120.25 L400.70 120.17 L401.20 120.10 L401.70 120.02 L402.20 119.95 L402.70 119.87 L403.20 119.80 L403.70 119.72 L404.20 119.65 L404.70 119.57 L405.20 119.50 L405.70 119.42 L406.20 119.35 L406.70 119.27 L407.20 119.20 L407.70 119.12 L408.20 119.05 L408.70 118.97 L409.20 118.89 L409.70 118.82 L410.20 118.74 L410.70 118.66 L411.20 118.59 L411.70 118.51 L412.20 118.43 L412.70 118.36 L413.20 118.28 L413.70 118.20 L414.20 118.13 L414.70 118.05 L415.20 117.97 L415.70 117.89 L416.20 117.82 L416.70 117.74 L417.20 117.66 L417.70 117.58 L418.20 117.51 L418.70 117.43 L419.20 117.35 L419.70 117.27 L420.20 117.19 L420.70 117.11 L421.20 117.04 L421.70 116.96 L422.20 116.88 L422.70 116.80 L423.20 116.72 L423.70 116.64 L424.20 116.56 L424.70 116.48 L425.20 116.40 L425.70 116.32 L426.20 116.24 L426.70 116.16 L427.20 116.08 L427.70 116.00 L428.20 115.92 L428.70 115.84 L429.20 115.76 L429.70 115.68 L430.20 115.60 L430.70 115.52 L431.20 115.44 L431.70 115.36" fill="none" stroke="#6f6fff" stroke-width="0.9" stroke-dasharray="1.8 1" stroke-opacity="0.5"/><path d="M273.10 104.30 L273.60 104.47 L274.10 104.65 L274.60 104.82 L275.10 104.99 L275.60 105.17 L276.10 105.34 L276.60 105.51 L277.10 105.68 L277.60 105.85 L278.10 106.02 L278.60 106.20 L279.10 106.37 L279.60 106.53 L280.10 106.70 L280.60 106.87 L281.10 107.04 L281.60 107.21 L282.10 107.38 L282.60 107.54 L283.10 107.71 L283.60 107.88 L284.10 108.04 L284.60 108.21 L285.10 108.37 L285.60 108.54 L286.10 108.70 L286.60 108.87 L287.10 109.03 L287.60 109.20 L288.10 109.36 L288.60 109.52 L289.10 109.68 L289.60 109.84 L290.10 110.01 L290.60 110.17 L291.10 110.33 L291.60 110.49 L292.10 110.65 L292.60 110.81 L293.10 110.97 L293.60 111.13 L294.10 111.28 L294.60 111.44 L295.10 111.60 L295.60 111.76 L296.10 111.91 L296.60 112.07 L297.10 112.23 L297.60 112.38 L298.10 112.54 L298.60 112.69 L299.10 112.85 L299.60 113.00 L300.10 113.16 L300.60 113.31 L301.10 113.46 L301.60 113.62 L302.10 113.77 L302.60 113.92 L303.10 114.07 L303.60 114.22 L304.10 114.38 L304.60 114.53 L305.10 114.68 L305.60 114.83 L306.10 114.98 L306.60 115.13 L307.10 115.27 L307.60 115.42 L308.10 115.57 L308.60 115.72 L309.10 115.87 L309.60 116.01 L310.10 116.16 L310.60 116.31 L311.10 116.45 L311.60 116.60 L312.10 116.75 L312.60 116.89 L313.10 117.04 L313.60 117.18 L314.10 117.33 L314.60 117.47 L315.10 117.61 L315.60 117.76 L316.10 117.90 L316.60 118.04 L317.10 118.18 L317.60 118.33 L318.10 118.47 L318.60 118.61 L319.10 118.75 L319.60 118.89 L320.10 119.03 L320.60 119.17 L321.10 119.31 L321.60 119.45 L322.10 119.59 L322.60 119.73 L323.10 119.86 L323.60 120.00 L324.10 120.14 L324.60 120.28 L325.10 120.41 L325.60 120.55 L326.10 120.69 L326.60 120.82 L327.10 120.96 L327.60 121.09 L328.10 121.23 L328.60 121.36 L329.10 121.50 L329.60 121.63 L330.10 121.77 L330.60 121.90 L331.10 122.03 L331.60 122.16 L332.10 122.30 L332.60 122.43 L333.10 122.56 L333.60 122.69 L334.10 122.82 L334.60 122.96 L335.10 123.09 L335.60 123.22 L336.10 123.35 L336.60 123.48 L337.10 123.61 L337.60 123.73 L338.10 123.86 L338.60 123.99 L339.10 124.12 L339.60 124.25 L340.10 124.38 L340.60 124.50 L341.10 124.63 L341.60 124.76 L342.10 124.88 L342.60 125.01 L343.10 125.14 L343.60 125.26 L344.10 125.39 L344.60 125.51 L345.10 125.64 L345.60 125.76 L346.10 125.88 L346.60 126.01 L347.10 126.13 L347.60 126.25 L348.10 126.38 L348.60 126.50 L349.10 126.62 L349.60 126.74 L350.10 126.87 L350.60 126.99 L351.10 127.11 L351.60 127.23 L352.10 127.35 L352.60 127.47 L353.10 127.59 L353.60 127.71 L354.10 127.83 L354.60 127.95 L355.10 128.07 L355.60 128.19 L356.10 128.31 L356.60 128.42 L357.10 128.54 L357.60 128.66 L358.10 128.78 L358.60 128.89 L359.10 129.01 L359.60 129.13 L360.10 129.24 L360.60 129.36 L361.10 129.47 L361.60 129.59 L362.10 129.70 L362.60 129.82 L363.10 129.93 L363.60 130.05 L364.10 130.16 L364.60 130.28 L365.10 130.39 L365.60 130.50 L366.10 130.62 L366.60 130.73 L367.10 130.84 L367.60 130.95 L368.10 131.06 L368.60 131.18 L369.10 131.29 L369.60 131.40 L370.10 131.51 L370.60 131.62 L371.10 131.73 L371.60 131.84 L372.10 131.95 L372.60 132.06 L373.10 132.17 L373.60 132.28 L374.10 132.39 L374.60 132.49 L375.10 132.60 L375.60 132.71 L376.10 132.82 L376.60 132.93 L377.10 133.03 L377.60 133.14 L378.10 133.25 L378.60 133.35 L379.10 133.46 L379.60 133.57 L380.10 133.67 L380.60 133.78 L381.10 133.88 L381.60 133.99 L382.10 134.09 L382.60 134.20 L383.10 134.30 L383.60 134.41 L384.10 134.51 L384.60 134.61 L385.10 134.72 L385.60 134.82 L386.10 134.92 L386.60 135.02 L387.10 135.13 L387.60 135.23 L388.10 135.33 L388.60 135.43 L389.10 135.53 L389.60 135.63 L390.10 135.74 L390.60 135.84 L391.10 135.94 L391.60 136.04 L392.10 136.14 L392.60 136.24 L393.10 136.34 L393.60 136.44 L394.10 136.53 L394.60 136.63 L395.10 136.73 L395.60 136.83 L396.10 136.93 L396.60 137.03 L397.10 137.12 L397.60 137.22 L398.10 137.32 L398.60 137.41 L399.10 137.51 L399.60 137.61 L400.10 137.70 L400.60 137.80 L401.10 137.90 L401.60 137.99 L402.10 138.09 L402.60 138.18 L403.10 138.28 L403.60 138.37 L404.10 138.47 L404.60 138.56 L405.10 138.65 L405.60 138.75 L406.10 138.84 L406.60 138.94 L407.10 139.03 L407.60 139.12 L408.10 139.21 L408.60 139.31 L409.10 139.40 L409.60 139.49 L410.10 139.58 L410.60 139.67 L411.10 139.77 L411.60 139.86 L412.10 139.95 L412.60 140.04 L413.10 140.13 L413.60 140.22 L414.10 140.31 L414.60 140.40 L415.10 140.49 L415.60 140.58 L416.10 140.67 L416.60 140.76 L417.10 140.85 L417.60 140.93 L418.10 141.02 L418.60 141.11 L419.10 141.20 L419.60 141.29 L420.10 141.37 L420.60 141.46 L421.10 141.55 L421.60 141.64 L422.10 141.72 L422.60 141.81 L423.10 141.90 L423.60 141.98 L424.10 142.07 L424.60 142.15 L425.10 142.24 L425.60 142.33 L426.10 142.41 L426.60 142.50 L427.10 142.58 L427.60 142.66 L428.10 142.75 L428.60 142.83 L429.10 142.92 L429.60 143.00 L430.10 143.08 L430.60 143.17 L431.10 143.25 L431.60 143.33 L432.10 143.42 L432.40 143.47" fill="none" stroke="#ff2a30" stroke-width="1.1"/></g>
<g><rect x="518" y="171.00" width="3" height="4.20" fill="#000" fill-opacity="0.13"/><rect x="524" y="171.00" width="1" height="4.20" fill="#000" fill-opacity="0.13"/><rect x="525" y="171.00" width="1" height="4.20" fill="#000" fill-opacity="0.64"/><rect x="526" y="171.00" width="1" height="4.20" fill="#000" fill-opacity="0.04"/><rect x="527" y="171.00" width="3" height="4.20" fill="#000" fill-opacity="0.35"/><rect x="530" y="171.00" width="1" height="4.20" fill="#000" fill-opacity="0.23"/><rect x="531" y="171.00" width="2" height="4.20" fill="#000" fill-opacity="0.45"/><rect x="533" y="171.00" width="1" height="4.20" fill="#000" fill-opacity="0.48"/><rect x="534" y="171.00" width="3" height="4.20" fill="#000" fill-opacity="0.70"/><rect x="537" y="171.00" width="1" height="4.20" fill="#000" fill-opacity="0.49"/><rect x="538" y="171.00" width="1" height="4.20" fill="#000" fill-opacity="0.36"/><rect x="539" y="171.00" width="1" height="4.20" fill="#000" fill-opacity="0.85"/><rect x="540" y="171.00" width="1" height="4.20" fill="#000" fill-opacity="0.68"/><rect x="541" y="171.00" width="75" height="4.20" fill="#000" fill-opacity="1.00"/><rect x="616" y="171.00" width="1" height="4.20" fill="#000" fill-opacity="0.94"/><rect x="617" y="171.00" width="6" height="4.20" fill="#000" fill-opacity="0.90"/><rect x="623" y="171.00" width="6" height="4.20" fill="#000" fill-opacity="0.85"/><rect x="629" y="171.00" width="1" height="4.20" fill="#000" fill-opacity="0.09"/><rect x="630" y="171.00" width="2" height="4.20" fill="#000" fill-opacity="0.45"/><rect x="632" y="171.00" width="1" height="4.20" fill="#000" fill-opacity="0.40"/><rect x="634" y="171.00" width="1" height="4.20" fill="#000" fill-opacity="0.22"/><rect x="635" y="171.00" width="1" height="4.20" fill="#000" fill-opacity="0.55"/><rect x="636" y="171.00" width="1" height="4.20" fill="#000" fill-opacity="0.44"/><rect x="638" y="171.00" width="2" height="4.20" fill="#000" fill-opacity="0.13"/><rect x="642" y="171.00" width="1" height="4.20" fill="#000" fill-opacity="0.02"/><rect x="643" y="171.00" width="1" height="4.20" fill="#000" fill-opacity="0.38"/><rect x="649" y="171.00" width="1" height="4.20" fill="#000" fill-opacity="0.03"/><rect x="650" y="171.00" width="1" height="4.20" fill="#000" fill-opacity="0.47"/><rect x="677" y="171.00" width="1" height="4.20" fill="#000" fill-opacity="0.38"/><rect x="678" y="171.00" width="1" height="4.20" fill="#000" fill-opacity="0.02"/><rect x="512.70" y="25.50" width="170.90" height="149.70" fill="none" stroke="#666" stroke-width="1"/><line x1="509.10" y1="44.30" x2="512.70" y2="44.30" stroke="#666" stroke-width="1"/><text transform="translate(505.10 44.30) rotate(-90) scale(1 1.12)" text-anchor="middle" font-family='"Liberation Sans", sans-serif' font-size="6.10" fill="#222" stroke="#222" stroke-width="0.18">0.05</text><line x1="509.10" y1="71.10" x2="512.70" y2="71.10" stroke="#666" stroke-width="1"/><text transform="translate(505.10 71.10) rotate(-90) scale(1 1.12)" text-anchor="middle" font-family='"Liberation Sans", sans-serif' font-size="6.10" fill="#222" stroke="#222" stroke-width="0.18">0.04</text><line x1="509.10" y1="97.90" x2="512.70" y2="97.90" stroke="#666" stroke-width="1"/><text transform="translate(505.10 97.90) rotate(-90) scale(1 1.12)" text-anchor="middle" font-family='"Liberation Sans", sans-serif' font-size="6.10" fill="#222" stroke="#222" stroke-width="0.18">0.03</text><line x1="509.10" y1="124.70" x2="512.70" y2="124.70" stroke="#666" stroke-width="1"/><text transform="translate(505.10 124.70) rotate(-90) scale(1 1.12)" text-anchor="middle" font-family='"Liberation Sans", sans-serif' font-size="6.10" fill="#222" stroke="#222" stroke-width="0.18">0.02</text><line x1="509.10" y1="151.50" x2="512.70" y2="151.50" stroke="#666" stroke-width="1"/><text transform="translate(505.10 151.50) rotate(-90) scale(1 1.12)" text-anchor="middle" font-family='"Liberation Sans", sans-serif' font-size="6.10" fill="#222" stroke="#222" stroke-width="0.18">0.01</text><line x1="526.00" y1="175.20" x2="526.00" y2="179.20" stroke="#666" stroke-width="1"/><text x="526.00" y="188.90" text-anchor="middle" font-family='"Liberation Sans", sans-serif' font-size="6.50" fill="#222" stroke="#222" stroke-width="0.18">4</text><line x1="554.86" y1="175.20" x2="554.86" y2="179.20" stroke="#666" stroke-width="1"/><text x="554.86" y="188.90" text-anchor="middle" font-family='"Liberation Sans", sans-serif' font-size="6.50" fill="#222" stroke="#222" stroke-width="0.18">6</text><line x1="583.72" y1="175.20" x2="583.72" y2="179.20" stroke="#666" stroke-width="1"/><text x="583.72" y="188.90" text-anchor="middle" font-family='"Liberation Sans", sans-serif' font-size="6.50" fill="#222" stroke="#222" stroke-width="0.18">8</text><line x1="612.58" y1="175.20" x2="612.58" y2="179.20" stroke="#666" stroke-width="1"/><text x="612.58" y="188.90" text-anchor="middle" font-family='"Liberation Sans", sans-serif' font-size="6.50" fill="#222" stroke="#222" stroke-width="0.18">10</text><line x1="641.44" y1="175.20" x2="641.44" y2="179.20" stroke="#666" stroke-width="1"/><text x="641.44" y="188.90" text-anchor="middle" font-family='"Liberation Sans", sans-serif' font-size="6.50" fill="#222" stroke="#222" stroke-width="0.18">12</text><line x1="670.30" y1="175.20" x2="670.30" y2="179.20" stroke="#666" stroke-width="1"/><text x="670.30" y="188.90" text-anchor="middle" font-family='"Liberation Sans", sans-serif' font-size="6.50" fill="#222" stroke="#222" stroke-width="0.18">14</text><text x="591.85" y="203.00" text-anchor="middle" font-family='"Liberation Sans", sans-serif' font-size="6.50" fill="#222" stroke="#222" stroke-width="0.06">AISI</text><path d="M518.30 121.67 L518.80 121.80 L519.30 121.93 L519.80 122.05 L520.30 122.18 L520.80 122.31 L521.30 122.43 L521.80 122.56 L522.30 122.68 L522.80 122.81 L523.30 122.93 L523.80 123.06 L524.30 123.18 L524.80 123.31 L525.30 123.43 L525.80 123.56 L526.30 123.68 L526.80 123.80 L527.30 123.93 L527.80 124.05 L528.30 124.17 L528.80 124.29 L529.30 124.42 L529.80 124.54 L530.30 124.66 L530.80 124.78 L531.30 124.90 L531.80 125.02 L532.30 125.15 L532.80 125.27 L533.30 125.39 L533.80 125.51 L534.30 125.63 L534.80 125.74 L535.30 125.86 L535.80 125.98 L536.30 126.10 L536.80 126.22 L537.30 126.34 L537.80 126.46 L538.30 126.57 L538.80 126.69 L539.30 126.81 L539.80 126.93 L540.30 127.04 L540.80 127.16 L541.30 127.28 L541.80 127.39 L542.30 127.51 L542.80 127.62 L543.30 127.74 L543.80 127.85 L544.30 127.97 L544.80 128.08 L545.30 128.20 L545.80 128.31 L546.30 128.43 L546.80 128.54 L547.30 128.65 L547.80 128.77 L548.30 128.88 L548.80 128.99 L549.30 129.11 L549.80 129.22 L550.30 129.33 L550.80 129.44 L551.30 129.56 L551.80 129.67 L552.30 129.78 L552.80 129.89 L553.30 130.00 L553.80 130.11 L554.30 130.22 L554.80 130.33 L555.30 130.44 L555.80 130.55 L556.30 130.66 L556.80 130.77 L557.30 130.88 L557.80 130.99 L558.30 131.10 L558.80 131.20 L559.30 131.31 L559.80 131.42 L560.30 131.53 L560.80 131.64 L561.30 131.74 L561.80 131.85 L562.30 131.96 L562.80 132.06 L563.30 132.17 L563.80 132.28 L564.30 132.38 L564.80 132.49 L565.30 132.59 L565.80 132.70 L566.30 132.80 L566.80 132.91 L567.30 133.01 L567.80 133.12 L568.30 133.22 L568.80 133.33 L569.30 133.43 L569.80 133.53 L570.30 133.64 L570.80 133.74 L571.30 133.84 L571.80 133.95 L572.30 134.05 L572.80 134.15 L573.30 134.25 L573.80 134.36 L574.30 134.46 L574.80 134.56 L575.30 134.66 L575.80 134.76 L576.30 134.86 L576.80 134.96 L577.30 135.06 L577.80 135.17 L578.30 135.27 L578.80 135.37 L579.30 135.47 L579.80 135.56 L580.30 135.66 L580.80 135.76 L581.30 135.86 L581.80 135.96 L582.30 136.06 L582.80 136.16 L583.30 136.26 L583.80 136.35 L584.30 136.45 L584.80 136.55 L585.30 136.65 L585.80 136.74 L586.30 136.84 L586.80 136.94 L587.30 137.03 L587.80 137.13 L588.30 137.23 L588.80 137.32 L589.30 137.42 L589.80 137.51 L590.30 137.61 L590.80 137.70 L591.30 137.80 L591.80 137.89 L592.30 137.99 L592.80 138.08 L593.30 138.18 L593.80 138.27 L594.30 138.37 L594.80 138.46 L595.30 138.55 L595.80 138.65 L596.30 138.74 L596.80 138.83 L597.30 138.92 L597.80 139.02 L598.30 139.11 L598.80 139.20 L599.30 139.29 L599.80 139.39 L600.30 139.48 L600.80 139.57 L601.30 139.66 L601.80 139.75 L602.30 139.84 L602.80 139.93 L603.30 140.02 L603.80 140.11 L604.30 140.20 L604.80 140.29 L605.30 140.38 L605.80 140.47 L606.30 140.56 L606.80 140.65 L607.30 140.74 L607.80 140.83 L608.30 140.92 L608.80 141.01 L609.30 141.09 L609.80 141.18 L610.30 141.27 L610.80 141.36 L611.30 141.45 L611.80 141.53 L612.30 141.62 L612.80 141.71 L613.30 141.79 L613.80 141.88 L614.30 141.97 L614.80 142.05 L615.30 142.14 L615.80 142.23 L616.30 142.31 L616.80 142.40 L617.30 142.48 L617.80 142.57 L618.30 142.65 L618.80 142.74 L619.30 142.82 L619.80 142.91 L620.30 142.99 L620.80 143.08 L621.30 143.16 L621.80 143.25 L622.30 143.33 L622.80 143.41 L623.30 143.50 L623.80 143.58 L624.30 143.66 L624.80 143.75 L625.30 143.83 L625.80 143.91 L626.30 143.99 L626.80 144.08 L627.30 144.16 L627.80 144.24 L628.30 144.32 L628.80 144.40 L629.30 144.48 L629.80 144.57 L630.30 144.65 L630.80 144.73 L631.30 144.81 L631.80 144.89 L632.30 144.97 L632.80 145.05 L633.30 145.13 L633.80 145.21 L634.30 145.29 L634.80 145.37 L635.30 145.45 L635.80 145.53 L636.30 145.61 L636.80 145.69 L637.30 145.77 L637.80 145.84 L638.30 145.92 L638.80 146.00 L639.30 146.08 L639.80 146.16 L640.30 146.23 L640.80 146.31 L641.30 146.39 L641.80 146.47 L642.30 146.54 L642.80 146.62 L643.30 146.70 L643.80 146.78 L644.30 146.85 L644.80 146.93 L645.30 147.00 L645.80 147.08 L646.30 147.16 L646.80 147.23 L647.30 147.31 L647.80 147.38 L648.30 147.46 L648.80 147.53 L649.30 147.61 L649.80 147.68 L650.30 147.76 L650.80 147.83 L651.30 147.91 L651.80 147.98 L652.30 148.06 L652.80 148.13 L653.30 148.21 L653.80 148.28 L654.30 148.35 L654.80 148.43 L655.30 148.50 L655.80 148.57 L656.30 148.65 L656.80 148.72 L657.30 148.79 L657.80 148.86 L658.30 148.94 L658.80 149.01 L659.30 149.08 L659.80 149.15 L660.30 149.22 L660.80 149.30 L661.30 149.37 L661.80 149.44 L662.30 149.51 L662.80 149.58 L663.30 149.65 L663.80 149.72 L664.30 149.79 L664.80 149.86 L665.30 149.93 L665.80 150.00 L666.30 150.07 L666.80 150.14 L667.30 150.21 L667.80 150.28 L668.30 150.35 L668.80 150.42 L669.30 150.49 L669.80 150.56 L670.30 150.63 L670.80 150.70 L671.30 150.77 L671.80 150.84 L672.30 150.90 L672.80 150.97 L673.30 151.04 L673.80 151.11 L674.30 151.18 L674.80 151.24 L675.30 151.31 L675.80 151.38 L676.30 151.45 L676.80 151.51 L677.30 151.58 L677.40 151.59" fill="none" stroke="#6f6fff" stroke-width="0.9" stroke-dasharray="1.8 1" stroke-opacity="0.5"/><path d="M518.60 158.63 L519.10 158.51 L519.60 158.39 L520.10 158.27 L520.60 158.15 L521.10 158.02 L521.60 157.90 L522.10 157.77 L522.60 157.65 L523.10 157.52 L523.60 157.39 L524.10 157.26 L524.60 157.14 L525.10 157.01 L525.60 156.88 L526.10 156.75 L526.60 156.61 L527.10 156.48 L527.60 156.35 L528.10 156.21 L528.60 156.08 L529.10 155.94 L529.60 155.81 L530.10 155.67 L530.60 155.53 L531.10 155.40 L531.60 155.26 L532.10 155.12 L532.60 154.98 L533.10 154.83 L533.60 154.69 L534.10 154.55 L534.60 154.40 L535.10 154.26 L535.60 154.11 L536.10 153.97 L536.60 153.82 L537.10 153.67 L537.60 153.52 L538.10 153.37 L538.60 153.22 L539.10 153.07 L539.60 152.91 L540.10 152.76 L540.60 152.61 L541.10 152.45 L541.60 152.29 L542.10 152.14 L542.60 151.98 L543.10 151.82 L543.60 151.66 L544.10 151.50 L544.60 151.34 L545.10 151.17 L545.60 151.01 L546.10 150.85 L546.60 150.68 L547.10 150.51 L547.60 150.34 L548.10 150.18 L548.60 150.01 L549.10 149.84 L549.60 149.66 L550.10 149.49 L550.60 149.32 L551.10 149.14 L551.60 148.97 L552.10 148.79 L552.60 148.61 L553.10 148.43 L553.60 148.25 L554.10 148.07 L554.60 147.89 L555.10 147.71 L555.60 147.52 L556.10 147.34 L556.60 147.15 L557.10 146.96 L557.60 146.77 L558.10 146.58 L558.60 146.39 L559.10 146.20 L559.60 146.01 L560.10 145.81 L560.60 145.62 L561.10 145.42 L561.60 145.22 L562.10 145.03 L562.60 144.83 L563.10 144.63 L563.60 144.42 L564.10 144.22 L564.60 144.01 L565.10 143.81 L565.60 143.60 L566.10 143.39 L566.60 143.18 L567.10 142.97 L567.60 142.76 L568.10 142.55 L568.60 142.34 L569.10 142.12 L569.60 141.90 L570.10 141.69 L570.60 141.47 L571.10 141.25 L571.60 141.02 L572.10 140.80 L572.60 140.58 L573.10 140.35 L573.60 140.12 L574.10 139.90 L574.60 139.67 L575.10 139.44 L575.60 139.20 L576.10 138.97 L576.60 138.74 L577.10 138.50 L577.60 138.26 L578.10 138.03 L578.60 137.79 L579.10 137.54 L579.60 137.30 L580.10 137.06 L580.60 136.81 L581.10 136.57 L581.60 136.32 L582.10 136.07 L582.60 135.82 L583.10 135.57 L583.60 135.31 L584.10 135.06 L584.60 134.80 L585.10 134.54 L585.60 134.28 L586.10 134.02 L586.60 133.76 L587.10 133.50 L587.60 133.23 L588.10 132.97 L588.60 132.70 L589.10 132.43 L589.60 132.16 L590.10 131.89 L590.60 131.61 L591.10 131.34 L591.60 131.06 L592.10 130.78 L592.60 130.50 L593.10 130.22 L593.60 129.94 L594.10 129.65 L594.60 129.37 L595.10 129.08 L595.60 128.79 L596.10 128.50 L596.60 128.21 L597.10 127.92 L597.60 127.62 L598.10 127.32 L598.60 127.03 L599.10 126.73 L599.60 126.42 L600.10 126.12 L600.60 125.82 L601.10 125.51 L601.60 125.20 L602.10 124.89 L602.60 124.58 L603.10 124.27 L603.60 123.95 L604.10 123.64 L604.60 123.32 L605.10 123.00 L605.60 122.68 L606.10 122.35 L606.60 122.03 L607.10 121.70 L607.60 121.37 L608.10 121.04 L608.60 120.70 L609.10 120.37 L609.60 120.03 L610.10 119.69 L610.60 119.35 L611.10 119.00 L611.60 118.66 L612.10 118.31 L612.60 117.96 L613.10 117.60 L613.60 117.25 L614.10 116.89 L614.60 116.53 L615.10 116.16 L615.60 115.80 L616.10 115.43 L616.60 115.06 L617.10 114.69 L617.60 114.31 L618.10 113.93 L618.60 113.55 L619.10 113.17 L619.60 112.78 L620.10 112.39 L620.60 112.00 L621.10 111.61 L621.60 111.21 L622.10 110.81 L622.60 110.41 L623.10 110.00 L623.60 109.59 L624.10 109.18 L624.60 108.77 L625.10 108.35 L625.60 107.93 L626.10 107.50 L626.60 107.08 L627.10 106.65 L627.60 106.22 L628.10 105.78 L628.60 105.34 L629.10 104.90 L629.60 104.45 L630.10 104.00 L630.60 103.55 L631.10 103.10 L631.60 102.64 L632.10 102.17 L632.60 101.71 L633.10 101.24 L633.60 100.77 L634.10 100.29 L634.60 99.81 L635.10 99.33 L635.60 98.84 L636.10 98.35 L636.60 97.86 L637.10 97.36 L637.60 96.86 L638.10 96.35 L638.60 95.85 L639.10 95.33 L639.60 94.82 L640.10 94.30 L640.60 93.78 L641.10 93.25 L641.60 92.72 L642.10 92.19 L642.60 91.65 L643.10 91.11 L643.60 90.57 L644.10 90.02 L644.60 89.47 L645.10 88.91 L645.60 88.36 L646.10 87.80 L646.60 87.23 L647.10 86.66 L647.60 86.09 L648.10 85.52 L648.60 84.94 L649.10 84.36 L649.60 83.77 L650.10 83.18 L650.60 82.59 L651.10 82.00 L651.60 81.40 L652.10 80.80 L652.60 80.20 L653.10 79.59 L653.60 78.98 L654.10 78.37 L654.60 77.76 L655.10 77.14 L655.60 76.52 L656.10 75.90 L656.60 75.27 L657.10 74.64 L657.60 74.01 L658.10 73.38 L658.60 72.74 L659.10 72.11 L659.60 71.47 L660.10 70.82 L660.60 70.18 L661.10 69.53 L661.60 68.88 L662.10 68.23 L662.60 67.57 L663.10 66.91 L663.60 66.26 L664.10 65.59 L664.60 64.93 L665.10 64.27 L665.60 63.60 L666.10 62.93 L666.60 62.26 L667.10 61.58 L667.60 60.91 L668.10 60.23 L668.60 59.55 L669.10 58.87 L669.60 58.19 L670.10 57.51 L670.60 56.82 L671.10 56.13 L671.60 55.45 L672.10 54.76 L672.60 54.06 L673.10 53.37 L673.60 52.68 L674.10 51.98 L674.60 51.28 L675.10 50.58 L675.60 49.88 L676.10 49.18 L676.60 48.48 L677.10 47.78 L677.60 47.07" fill="none" stroke="#6f6fff" stroke-width="0.9" stroke-dasharray="1.8 1" stroke-opacity="0.5"/><path d="M519.00 144.71 L519.50 144.64 L520.00 144.58 L520.50 144.52 L521.00 144.45 L521.50 144.39 L522.00 144.33 L522.50 144.26 L523.00 144.20 L523.50 144.13 L524.00 144.07 L524.50 144.01 L525.00 143.94 L525.50 143.88 L526.00 143.81 L526.50 143.75 L527.00 143.68 L527.50 143.62 L528.00 143.55 L528.50 143.49 L529.00 143.42 L529.50 143.36 L530.00 143.29 L530.50 143.23 L531.00 143.16 L531.50 143.10 L532.00 143.03 L532.50 142.96 L533.00 142.90 L533.50 142.83 L534.00 142.77 L534.50 142.70 L535.00 142.63 L535.50 142.57 L536.00 142.50 L536.50 142.43 L537.00 142.37 L537.50 142.30 L538.00 142.23 L538.50 142.17 L539.00 142.10 L539.50 142.03 L540.00 141.97 L540.50 141.90 L541.00 141.83 L541.50 141.76 L542.00 141.70 L542.50 141.63 L543.00 141.56 L543.50 141.49 L544.00 141.42 L544.50 141.36 L545.00 141.29 L545.50 141.22 L546.00 141.15 L546.50 141.08 L547.00 141.01 L547.50 140.95 L548.00 140.88 L548.50 140.81 L549.00 140.74 L549.50 140.67 L550.00 140.60 L550.50 140.53 L551.00 140.46 L551.50 140.39 L552.00 140.32 L552.50 140.25 L553.00 140.18 L553.50 140.11 L554.00 140.04 L554.50 139.97 L555.00 139.90 L555.50 139.83 L556.00 139.76 L556.50 139.69 L557.00 139.62 L557.50 139.55 L558.00 139.48 L558.50 139.41 L559.00 139.34 L559.50 139.27 L560.00 139.20 L560.50 139.13 L561.00 139.05 L561.50 138.98 L562.00 138.91 L562.50 138.84 L563.00 138.77 L563.50 138.70 L564.00 138.62 L564.50 138.55 L565.00 138.48 L565.50 138.41 L566.00 138.34 L566.50 138.26 L567.00 138.19 L567.50 138.12 L568.00 138.05 L568.50 137.97 L569.00 137.90 L569.50 137.83 L570.00 137.75 L570.50 137.68 L571.00 137.61 L571.50 137.53 L572.00 137.46 L572.50 137.39 L573.00 137.31 L573.50 137.24 L574.00 137.16 L574.50 137.09 L575.00 137.02 L575.50 136.94 L576.00 136.87 L576.50 136.79 L577.00 136.72 L577.50 136.64 L578.00 136.57 L578.50 136.49 L579.00 136.42 L579.50 136.34 L580.00 136.27 L580.50 136.19 L581.00 136.12 L581.50 136.04 L582.00 135.97 L582.50 135.89 L583.00 135.81 L583.50 135.74 L584.00 135.66 L584.50 135.59 L585.00 135.51 L585.50 135.43 L586.00 135.36 L586.50 135.28 L587.00 135.20 L587.50 135.13 L588.00 135.05 L588.50 134.97 L589.00 134.90 L589.50 134.82 L590.00 134.74 L590.50 134.66 L591.00 134.59 L591.50 134.51 L592.00 134.43 L592.50 134.35 L593.00 134.27 L593.50 134.20 L594.00 134.12 L594.50 134.04 L595.00 133.96 L595.50 133.88 L596.00 133.80 L596.50 133.73 L597.00 133.65 L597.50 133.57 L598.00 133.49 L598.50 133.41 L599.00 133.33 L599.50 133.25 L600.00 133.17 L600.50 133.09 L601.00 133.01 L601.50 132.93 L602.00 132.85 L602.50 132.77 L603.00 132.69 L603.50 132.61 L604.00 132.53 L604.50 132.45 L605.00 132.37 L605.50 132.29 L606.00 132.21 L606.50 132.12 L607.00 132.04 L607.50 131.96 L608.00 131.88 L608.50 131.80 L609.00 131.72 L609.50 131.64 L610.00 131.55 L610.50 131.47 L611.00 131.39 L611.50 131.31 L612.00 131.23 L612.50 131.14 L613.00 131.06 L613.50 130.98 L614.00 130.89 L614.50 130.81 L615.00 130.73 L615.50 130.65 L616.00 130.56 L616.50 130.48 L617.00 130.40 L617.50 130.31 L618.00 130.23 L618.50 130.14 L619.00 130.06 L619.50 129.98 L620.00 129.89 L620.50 129.81 L621.00 129.72 L621.50 129.64 L622.00 129.55 L622.50 129.47 L623.00 129.38 L623.50 129.30 L624.00 129.21 L624.50 129.13 L625.00 129.04 L625.50 128.96 L626.00 128.87 L626.50 128.79 L627.00 128.70 L627.50 128.61 L628.00 128.53 L628.50 128.44 L629.00 128.36 L629.50 128.27 L630.00 128.18 L630.50 128.10 L631.00 128.01 L631.50 127.92 L632.00 127.83 L632.50 127.75 L633.00 127.66 L633.50 127.57 L634.00 127.48 L634.50 127.40 L635.00 127.31 L635.50 127.22 L636.00 127.13 L636.50 127.04 L637.00 126.96 L637.50 126.87 L638.00 126.78 L638.50 126.69 L639.00 126.60 L639.50 126.51 L640.00 126.42 L640.50 126.33 L641.00 126.24 L641.50 126.16 L642.00 126.07 L642.50 125.98 L643.00 125.89 L643.50 125.80 L644.00 125.71 L644.50 125.62 L645.00 125.53 L645.50 125.43 L646.00 125.34 L646.50 125.25 L647.00 125.16 L647.50 125.07 L648.00 124.98 L648.50 124.89 L649.00 124.80 L649.50 124.71 L650.00 124.61 L650.50 124.52 L651.00 124.43 L651.50 124.34 L652.00 124.25 L652.50 124.15 L653.00 124.06 L653.50 123.97 L654.00 123.88 L654.50 123.78 L655.00 123.69 L655.50 123.60 L656.00 123.50 L656.50 123.41 L657.00 123.32 L657.50 123.22 L658.00 123.13 L658.50 123.04 L659.00 122.94 L659.50 122.85 L660.00 122.75 L660.50 122.66 L661.00 122.56 L661.50 122.47 L662.00 122.38 L662.50 122.28 L663.00 122.19 L663.50 122.09 L664.00 121.99 L664.50 121.90 L665.00 121.80 L665.50 121.71 L666.00 121.61 L666.50 121.52 L667.00 121.42 L667.50 121.32 L668.00 121.23 L668.50 121.13 L669.00 121.03 L669.50 120.94 L670.00 120.84 L670.50 120.74 L671.00 120.65 L671.50 120.55 L672.00 120.45 L672.50 120.35 L673.00 120.26 L673.50 120.16 L674.00 120.06 L674.50 119.96 L675.00 119.86 L675.50 119.76 L676.00 119.67 L676.50 119.57 L677.00 119.47 L677.50 119.37 L677.60 119.35" fill="none" stroke="#ff2a30" stroke-width="1.1"/></g>
<g><rect x="29" y="391.20" width="1" height="4.20" fill="#000" fill-opacity="0.09"/><rect x="30" y="391.20" width="1" height="4.20" fill="#000" fill-opacity="0.45"/><rect x="64" y="391.20" width="2" height="4.20" fill="#000" fill-opacity="0.09"/><rect x="86" y="391.20" width="2" height="4.20" fill="#000" fill-opacity="0.09"/><rect x="90" y="391.20" width="1" height="4.20" fill="#000" fill-opacity="0.28"/><rect x="91" y="391.20" width="2" height="4.20" fill="#000" fill-opacity="0.40"/><rect x="94" y="391.20" width="1" height="4.20" fill="#000" fill-opacity="0.21"/><rect x="95" y="391.20" width="1" height="4.20" fill="#000" fill-opacity="0.33"/><rect x="96" y="391.20" width="1" height="4.20" fill="#000" fill-opacity="0.03"/><rect x="97" y="391.20" width="6" height="4.20" fill="#000" fill-opacity="0.35"/><rect x="103" y="391.20" width="1" height="4.20" fill="#000" fill-opacity="0.50"/><rect x="104" y="391.20" width="2" height="4.20" fill="#000" fill-opacity="0.65"/><rect x="106" y="391.20" width="1" height="4.20" fill="#000" fill-opacity="0.33"/><rect x="107" y="391.20" width="2" height="4.20" fill="#000" fill-opacity="0.80"/><rect x="109" y="391.20" width="1" height="4.20" fill="#000" fill-opacity="0.88"/><rect x="110" y="391.20" width="49" height="4.20" fill="#000" fill-opacity="1.00"/><rect x="159" y="391.20" width="1" height="4.20" fill="#000" fill-opacity="0.98"/><rect x="160" y="391.20" width="8" height="4.20" fill="#000" fill-opacity="0.93"/><rect x="168" y="391.20" width="1" height="4.20" fill="#000" fill-opacity="0.82"/><rect x="169" y="391.20" width="1" height="4.20" fill="#000" fill-opacity="0.52"/><rect x="170" y="391.20" width="1" height="4.20" fill="#000" fill-opacity="0.87"/><rect x="171" y="391.20" width="1" height="4.20" fill="#000" fill-opacity="0.35"/><rect x="172" y="391.20" width="1" height="4.20" fill="#000" fill-opacity="0.59"/><rect x="173" y="391.20" width="1" height="4.20" fill="#000" fill-opacity="0.72"/><rect x="174" y="391.20" width="1" height="4.20" fill="#000" fill-opacity="0.40"/><rect x="175" y="391.20" width="1" height="4.20" fill="#000" fill-opacity="0.16"/><rect x="177" y="391.20" width="1" height="4.20" fill="#000" fill-opacity="0.15"/><rect x="178" y="391.20" width="1" height="4.20" fill="#000" fill-opacity="0.30"/><rect x="179" y="391.20" width="2" height="4.20" fill="#000" fill-opacity="0.15"/><rect x="185" y="391.20" width="1" height="4.20" fill="#000" fill-opacity="0.23"/><rect x="186" y="391.20" width="2" height="4.20" fill="#000" fill-opacity="0.25"/><rect x="188" y="391.20" width="1" height="4.20" fill="#000" fill-opacity="0.17"/><rect x="23.80" y="246.50" width="171.30" height="148.90" fill="none" stroke="#666" stroke-width="1"/><line x1="20.20" y1="385.40" x2="23.80" y2="385.40" stroke="#666" stroke-width="1"/><text transform="translate(16.10 385.40) rotate(-90) scale(1 1.12)" text-anchor="middle" font-family='"Liberation Sans", sans-serif' font-size="6.10" fill="#222" stroke="#222" stroke-width="0.18">0.00</text><line x1="20.20" y1="356.65" x2="23.80" y2="356.65" stroke="#666" stroke-width="1"/><text transform="translate(16.10 356.65) rotate(-90) scale(1 1.12)" text-anchor="middle" font-family='"Liberation Sans", sans-serif' font-size="6.10" fill="#222" stroke="#222" stroke-width="0.18">0.01</text><line x1="20.20" y1="327.90" x2="23.80" y2="327.90" stroke="#666" stroke-width="1"/><text transform="translate(16.10 327.90) rotate(-90) scale(1 1.12)" text-anchor="middle" font-family='"Liberation Sans", sans-serif' font-size="6.10" fill="#222" stroke="#222" stroke-width="0.18">0.02</text><line x1="20.20" y1="299.15" x2="23.80" y2="299.15" stroke="#666" stroke-width="1"/><text transform="translate(16.10 299.15) rotate(-90) scale(1 1.12)" text-anchor="middle" font-family='"Liberation Sans", sans-serif' font-size="6.10" fill="#222" stroke="#222" stroke-width="0.18">0.03</text><line x1="20.20" y1="270.40" x2="23.80" y2="270.40" stroke="#666" stroke-width="1"/><text transform="translate(16.10 270.40) rotate(-90) scale(1 1.12)" text-anchor="middle" font-family='"Liberation Sans", sans-serif' font-size="6.10" fill="#222" stroke="#222" stroke-width="0.18">0.04</text><line x1="40.86" y1="395.40" x2="40.86" y2="399.40" stroke="#666" stroke-width="1"/><text x="40.86" y="409.10" text-anchor="middle" font-family='"Liberation Sans", sans-serif' font-size="6.50" fill="#222" stroke="#222" stroke-width="0.18"><tspan fill="#555" stroke="none">−</tspan>6</text><line x1="68.14" y1="395.40" x2="68.14" y2="399.40" stroke="#666" stroke-width="1"/><text x="68.14" y="409.10" text-anchor="middle" font-family='"Liberation Sans", sans-serif' font-size="6.50" fill="#222" stroke="#222" stroke-width="0.18"><tspan fill="#555" stroke="none">−</tspan>4</text><line x1="95.42" y1="395.40" x2="95.42" y2="399.40" stroke="#666" stroke-width="1"/><text x="95.42" y="409.10" text-anchor="middle" font-family='"Liberation Sans", sans-serif' font-size="6.50" fill="#222" stroke="#222" stroke-width="0.18"><tspan fill="#555" stroke="none">−</tspan>2</text><line x1="122.70" y1="395.40" x2="122.70" y2="399.40" stroke="#666" stroke-width="1"/><text x="122.70" y="409.10" text-anchor="middle" font-family='"Liberation Sans", sans-serif' font-size="6.50" fill="#222" stroke="#222" stroke-width="0.18">0</text><line x1="149.98" y1="395.40" x2="149.98" y2="399.40" stroke="#666" stroke-width="1"/><text x="149.98" y="409.10" text-anchor="middle" font-family='"Liberation Sans", sans-serif' font-size="6.50" fill="#222" stroke="#222" stroke-width="0.18">2</text><line x1="177.26" y1="395.40" x2="177.26" y2="399.40" stroke="#666" stroke-width="1"/><text x="177.26" y="409.10" text-anchor="middle" font-family='"Liberation Sans", sans-serif' font-size="6.50" fill="#222" stroke="#222" stroke-width="0.18">4</text><text x="103.15" y="423.20" text-anchor="middle" font-family='"Liberation Sans", sans-serif' font-size="6.50" fill="#222" stroke="#222" stroke-width="0.06">NLR</text><path d="M30.30 290.12 L30.80 290.48 L31.30 290.84 L31.80 291.19 L32.30 291.54 L32.80 291.90 L33.30 292.25 L33.80 292.59 L34.30 292.94 L34.80 293.29 L35.30 293.63 L35.80 293.98 L36.30 294.32 L36.80 294.66 L37.30 295.00 L37.80 295.33 L38.30 295.67 L38.80 296.01 L39.30 296.34 L39.80 296.67 L40.30 297.00 L40.80 297.33 L41.30 297.66 L41.80 297.98 L42.30 298.31 L42.80 298.63 L43.30 298.96 L43.80 299.28 L44.30 299.60 L44.80 299.91 L45.30 300.23 L45.80 300.55 L46.30 300.86 L46.80 301.17 L47.30 301.48 L47.80 301.79 L48.30 302.10 L48.80 302.41 L49.30 302.72 L49.80 303.02 L50.30 303.32 L50.80 303.63 L51.30 303.93 L51.80 304.23 L52.30 304.53 L52.80 304.82 L53.30 305.12 L53.80 305.41 L54.30 305.71 L54.80 306.00 L55.30 306.29 L55.80 306.58 L56.30 306.87 L56.80 307.15 L57.30 307.44 L57.80 307.72 L58.30 308.01 L58.80 308.29 L59.30 308.57 L59.80 308.85 L60.30 309.13 L60.80 309.41 L61.30 309.68 L61.80 309.96 L62.30 310.23 L62.80 310.50 L63.30 310.77 L63.80 311.04 L64.30 311.31 L64.80 311.58 L65.30 311.85 L65.80 312.11 L66.30 312.38 L66.80 312.64 L67.30 312.90 L67.80 313.16 L68.30 313.42 L68.80 313.68 L69.30 313.94 L69.80 314.19 L70.30 314.45 L70.80 314.70 L71.30 314.95 L71.80 315.21 L72.30 315.46 L72.80 315.71 L73.30 315.95 L73.80 316.20 L74.30 316.45 L74.80 316.69 L75.30 316.94 L75.80 317.18 L76.30 317.42 L76.80 317.66 L77.30 317.90 L77.80 318.14 L78.30 318.38 L78.80 318.62 L79.30 318.85 L79.80 319.09 L80.30 319.32 L80.80 319.55 L81.30 319.78 L81.80 320.02 L82.30 320.24 L82.80 320.47 L83.30 320.70 L83.80 320.93 L84.30 321.15 L84.80 321.38 L85.30 321.60 L85.80 321.82 L86.30 322.05 L86.80 322.27 L87.30 322.49 L87.80 322.70 L88.30 322.92 L88.80 323.14 L89.30 323.35 L89.80 323.57 L90.30 323.78 L90.80 324.00 L91.30 324.21 L91.80 324.42 L92.30 324.63 L92.80 324.84 L93.30 325.05 L93.80 325.26 L94.30 325.46 L94.80 325.67 L95.30 325.87 L95.80 326.08 L96.30 326.28 L96.80 326.48 L97.30 326.68 L97.80 326.88 L98.30 327.08 L98.80 327.28 L99.30 327.48 L99.80 327.68 L100.30 327.87 L100.80 328.07 L101.30 328.26 L101.80 328.46 L102.30 328.65 L102.80 328.84 L103.30 329.03 L103.80 329.22 L104.30 329.41 L104.80 329.60 L105.30 329.79 L105.80 329.98 L106.30 330.16 L106.80 330.35 L107.30 330.53 L107.80 330.72 L108.30 330.90 L108.80 331.08 L109.30 331.27 L109.80 331.45 L110.30 331.63 L110.80 331.81 L111.30 331.98 L111.80 332.16 L112.30 332.34 L112.80 332.52 L113.30 332.69 L113.80 332.87 L114.30 333.04 L114.80 333.22 L115.30 333.39 L115.80 333.56 L116.30 333.73 L116.80 333.90 L117.30 334.07 L117.80 334.24 L118.30 334.41 L118.80 334.58 L119.30 334.75 L119.80 334.91 L120.30 335.08 L120.80 335.24 L121.30 335.41 L121.80 335.57 L122.30 335.74 L122.80 335.90 L123.30 336.06 L123.80 336.22 L124.30 336.39 L124.80 336.55 L125.30 336.71 L125.80 336.86 L126.30 337.02 L126.80 337.18 L127.30 337.34 L127.80 337.49 L128.30 337.65 L128.80 337.81 L129.30 337.96 L129.80 338.12 L130.30 338.27 L130.80 338.42 L131.30 338.58 L131.80 338.73 L132.30 338.88 L132.80 339.03 L133.30 339.18 L133.80 339.33 L134.30 339.48 L134.80 339.63 L135.30 339.78 L135.80 339.93 L136.30 340.07 L136.80 340.22 L137.30 340.37 L137.80 340.51 L138.30 340.66 L138.80 340.80 L139.30 340.95 L139.80 341.09 L140.30 341.23 L140.80 341.38 L141.30 341.52 L141.80 341.66 L142.30 341.80 L142.80 341.94 L143.30 342.08 L143.80 342.22 L144.30 342.36 L144.80 342.50 L145.30 342.64 L145.80 342.78 L146.30 342.92 L146.80 343.06 L147.30 343.19 L147.80 343.33 L148.30 343.47 L148.80 343.60 L149.30 343.74 L149.80 343.87 L150.30 344.01 L150.80 344.14 L151.30 344.28 L151.80 344.41 L152.30 344.54 L152.80 344.68 L153.30 344.81 L153.80 344.94 L154.30 345.07 L154.80 345.20 L155.30 345.33 L155.80 345.47 L156.30 345.60 L156.80 345.73 L157.30 345.86 L157.80 345.99 L158.30 346.11 L158.80 346.24 L159.30 346.37 L159.80 346.50 L160.30 346.63 L160.80 346.76 L161.30 346.88 L161.80 347.01 L162.30 347.14 L162.80 347.26 L163.30 347.39 L163.80 347.52 L164.30 347.64 L164.80 347.77 L165.30 347.89 L165.80 348.02 L166.30 348.14 L166.80 348.27 L167.30 348.39 L167.80 348.52 L168.30 348.64 L168.80 348.76 L169.30 348.89 L169.80 349.01 L170.30 349.13 L170.80 349.26 L171.30 349.38 L171.80 349.50 L172.30 349.62 L172.80 349.75 L173.30 349.87 L173.80 349.99 L174.30 350.11 L174.80 350.23 L175.30 350.35 L175.80 350.48 L176.30 350.60 L176.80 350.72 L177.30 350.84 L177.80 350.96 L178.30 351.08 L178.80 351.20 L179.30 351.32 L179.80 351.44 L180.30 351.56 L180.80 351.68 L181.30 351.80 L181.80 351.92 L182.30 352.04 L182.80 352.16 L183.30 352.28 L183.80 352.40 L184.30 352.52 L184.80 352.63 L185.30 352.75 L185.80 352.87 L186.30 352.99 L186.80 353.11 L187.30 353.23 L187.60 353.30" fill="none" stroke="#6f6fff" stroke-width="0.9" stroke-dasharray="1.8 1" stroke-opacity="0.5"/><path d="M30.30 379.01 L30.80 378.94 L31.30 378.88 L31.80 378.81 L32.30 378.74 L32.80 378.68 L33.30 378.61 L33.80 378.54 L34.30 378.47 L34.80 378.40 L35.30 378.33 L35.80 378.26 L36.30 378.19 L36.80 378.12 L37.30 378.05 L37.80 377.98 L38.30 377.90 L38.80 377.83 L39.30 377.75 L39.80 377.68 L40.30 377.60 L40.80 377.52 L41.30 377.45 L41.80 377.37 L42.30 377.29 L42.80 377.21 L43.30 377.13 L43.80 377.05 L44.30 376.97 L44.80 376.88 L45.30 376.80 L45.80 376.72 L46.30 376.63 L46.80 376.55 L47.30 376.46 L47.80 376.37 L48.30 376.29 L48.80 376.20 L49.30 376.11 L49.80 376.02 L50.30 375.93 L50.80 375.84 L51.30 375.74 L51.80 375.65 L52.30 375.56 L52.80 375.46 L53.30 375.37 L53.80 375.27 L54.30 375.17 L54.80 375.07 L55.30 374.97 L55.80 374.87 L56.30 374.77 L56.80 374.67 L57.30 374.57 L57.80 374.47 L58.30 374.36 L58.80 374.26 L59.30 374.15 L59.80 374.04 L60.30 373.93 L60.80 373.82 L61.30 373.71 L61.80 373.60 L62.30 373.49 L62.80 373.38 L63.30 373.26 L63.80 373.15 L64.30 373.03 L64.80 372.92 L65.30 372.80 L65.80 372.68 L66.30 372.56 L66.80 372.44 L67.30 372.31 L67.80 372.19 L68.30 372.07 L68.80 371.94 L69.30 371.81 L69.80 371.69 L70.30 371.56 L70.80 371.43 L71.30 371.30 L71.80 371.16 L72.30 371.03 L72.80 370.89 L73.30 370.76 L73.80 370.62 L74.30 370.48 L74.80 370.34 L75.30 370.20 L75.80 370.06 L76.30 369.92 L76.80 369.77 L77.30 369.63 L77.80 369.48 L78.30 369.33 L78.80 369.18 L79.30 369.03 L79.80 368.88 L80.30 368.72 L80.80 368.57 L81.30 368.41 L81.80 368.26 L82.30 368.10 L82.80 367.94 L83.30 367.77 L83.80 367.61 L84.30 367.44 L84.80 367.28 L85.30 367.11 L85.80 366.94 L86.30 366.77 L86.80 366.60 L87.30 366.42 L87.80 366.25 L88.30 366.07 L88.80 365.89 L89.30 365.71 L89.80 365.53 L90.30 365.35 L90.80 365.16 L91.30 364.98 L91.80 364.79 L92.30 364.60 L92.80 364.41 L93.30 364.22 L93.80 364.02 L94.30 363.82 L94.80 363.63 L95.30 363.43 L95.80 363.22 L96.30 363.02 L96.80 362.82 L97.30 362.61 L97.80 362.40 L98.30 362.19 L98.80 361.98 L99.30 361.76 L99.80 361.55 L100.30 361.33 L100.80 361.11 L101.30 360.88 L101.80 360.66 L102.30 360.43 L102.80 360.21 L103.30 359.98 L103.80 359.74 L104.30 359.51 L104.80 359.27 L105.30 359.04 L105.80 358.79 L106.30 358.55 L106.80 358.31 L107.30 358.06 L107.80 357.81 L108.30 357.56 L108.80 357.31 L109.30 357.05 L109.80 356.79 L110.30 356.53 L110.80 356.27 L111.30 356.01 L111.80 355.74 L112.30 355.47 L112.80 355.20 L113.30 354.92 L113.80 354.65 L114.30 354.37 L114.80 354.09 L115.30 353.80 L115.80 353.52 L116.30 353.23 L116.80 352.94 L117.30 352.64 L117.80 352.34 L118.30 352.05 L118.80 351.74 L119.30 351.44 L119.80 351.13 L120.30 350.82 L120.80 350.51 L121.30 350.19 L121.80 349.87 L122.30 349.55 L122.80 349.23 L123.30 348.90 L123.80 348.57 L124.30 348.24 L124.80 347.91 L125.30 347.57 L125.80 347.23 L126.30 346.88 L126.80 346.53 L127.30 346.18 L127.80 345.83 L128.30 345.47 L128.80 345.11 L129.30 344.75 L129.80 344.38 L130.30 344.01 L130.80 343.64 L131.30 343.27 L131.80 342.89 L132.30 342.50 L132.80 342.12 L133.30 341.73 L133.80 341.34 L134.30 340.94 L134.80 340.54 L135.30 340.14 L135.80 339.73 L136.30 339.32 L136.80 338.90 L137.30 338.49 L137.80 338.07 L138.30 337.64 L138.80 337.21 L139.30 336.78 L139.80 336.34 L140.30 335.90 L140.80 335.46 L141.30 335.01 L141.80 334.56 L142.30 334.10 L142.80 333.64 L143.30 333.18 L143.80 332.71 L144.30 332.24 L144.80 331.76 L145.30 331.28 L145.80 330.80 L146.30 330.31 L146.80 329.81 L147.30 329.32 L147.80 328.81 L148.30 328.31 L148.80 327.80 L149.30 327.28 L149.80 326.76 L150.30 326.24 L150.80 325.71 L151.30 325.17 L151.80 324.63 L152.30 324.09 L152.80 323.54 L153.30 322.99 L153.80 322.43 L154.30 321.87 L154.80 321.30 L155.30 320.73 L155.80 320.15 L156.30 319.57 L156.80 318.98 L157.30 318.39 L157.80 317.79 L158.30 317.18 L158.80 316.57 L159.30 315.96 L159.80 315.34 L160.30 314.71 L160.80 314.08 L161.30 313.45 L161.80 312.81 L162.30 312.16 L162.80 311.51 L163.30 310.85 L163.80 310.18 L164.30 309.51 L164.80 308.83 L165.30 308.15 L165.80 307.46 L166.30 306.77 L166.80 306.07 L167.30 305.36 L167.80 304.65 L168.30 303.93 L168.80 303.20 L169.30 302.47 L169.80 301.73 L170.30 300.99 L170.80 300.23 L171.30 299.48 L171.80 298.71 L172.30 297.94 L172.80 297.16 L173.30 296.38 L173.80 295.58 L174.30 294.78 L174.80 293.98 L175.30 293.16 L175.80 292.34 L176.30 291.52 L176.80 290.68 L177.30 289.84 L177.80 288.99 L178.30 288.13 L178.80 287.27 L179.30 286.39 L179.80 285.51 L180.30 284.63 L180.80 283.73 L181.30 282.83 L181.80 281.92 L182.30 281.00 L182.80 280.07 L183.30 279.13 L183.80 278.19 L184.30 277.24 L184.80 276.27 L185.30 275.31 L185.80 274.33 L186.30 273.34 L186.80 272.35 L187.30 271.34 L187.80 270.33 L188.30 269.31 L188.40 269.10" fill="none" stroke="#6f6fff" stroke-width="0.9" stroke-dasharray="1.8 1" stroke-opacity="0.5"/><path d="M30.30 360.77 L30.80 360.70 L31.30 360.62 L31.80 360.55 L32.30 360.47 L32.80 360.40 L33.30 360.32 L33.80 360.24 L34.30 360.17 L34.80 360.09 L35.30 360.01 L35.80 359.93 L36.30 359.86 L36.80 359.78 L37.30 359.70 L37.80 359.62 L38.30 359.54 L38.80 359.47 L39.30 359.39 L39.80 359.31 L40.30 359.23 L40.80 359.15 L41.30 359.07 L41.80 358.99 L42.30 358.91 L42.80 358.83 L43.30 358.75 L43.80 358.67 L44.30 358.59 L44.80 358.51 L45.30 358.43 L45.80 358.34 L46.30 358.26 L46.80 358.18 L47.30 358.10 L47.80 358.02 L48.30 357.93 L48.80 357.85 L49.30 357.77 L49.80 357.69 L50.30 357.60 L50.80 357.52 L51.30 357.44 L51.80 357.35 L52.30 357.27 L52.80 357.18 L53.30 357.10 L53.80 357.01 L54.30 356.93 L54.80 356.84 L55.30 356.76 L55.80 356.67 L56.30 356.59 L56.80 356.50 L57.30 356.42 L57.80 356.33 L58.30 356.24 L58.80 356.16 L59.30 356.07 L59.80 355.98 L60.30 355.89 L60.80 355.81 L61.30 355.72 L61.80 355.63 L62.30 355.54 L62.80 355.45 L63.30 355.36 L63.80 355.27 L64.30 355.19 L64.80 355.10 L65.30 355.01 L65.80 354.92 L66.30 354.83 L66.80 354.74 L67.30 354.64 L67.80 354.55 L68.30 354.46 L68.80 354.37 L69.30 354.28 L69.80 354.19 L70.30 354.10 L70.80 354.00 L71.30 353.91 L71.80 353.82 L72.30 353.73 L72.80 353.63 L73.30 353.54 L73.80 353.45 L74.30 353.35 L74.80 353.26 L75.30 353.16 L75.80 353.07 L76.30 352.97 L76.80 352.88 L77.30 352.78 L77.80 352.69 L78.30 352.59 L78.80 352.50 L79.30 352.40 L79.80 352.30 L80.30 352.21 L80.80 352.11 L81.30 352.01 L81.80 351.91 L82.30 351.82 L82.80 351.72 L83.30 351.62 L83.80 351.52 L84.30 351.42 L84.80 351.32 L85.30 351.22 L85.80 351.12 L86.30 351.03 L86.80 350.93 L87.30 350.83 L87.80 350.72 L88.30 350.62 L88.80 350.52 L89.30 350.42 L89.80 350.32 L90.30 350.22 L90.80 350.12 L91.30 350.01 L91.80 349.91 L92.30 349.81 L92.80 349.71 L93.30 349.60 L93.80 349.50 L94.30 349.39 L94.80 349.29 L95.30 349.19 L95.80 349.08 L96.30 348.98 L96.80 348.87 L97.30 348.77 L97.80 348.66 L98.30 348.55 L98.80 348.45 L99.30 348.34 L99.80 348.24 L100.30 348.13 L100.80 348.02 L101.30 347.91 L101.80 347.81 L102.30 347.70 L102.80 347.59 L103.30 347.48 L103.80 347.37 L104.30 347.26 L104.80 347.15 L105.30 347.04 L105.80 346.93 L106.30 346.82 L106.80 346.71 L107.30 346.60 L107.80 346.49 L108.30 346.38 L108.80 346.27 L109.30 346.16 L109.80 346.04 L110.30 345.93 L110.80 345.82 L111.30 345.71 L111.80 345.59 L112.30 345.48 L112.80 345.36 L113.30 345.25 L113.80 345.14 L114.30 345.02 L114.80 344.91 L115.30 344.79 L115.80 344.67 L116.30 344.56 L116.80 344.44 L117.30 344.33 L117.80 344.21 L118.30 344.09 L118.80 343.97 L119.30 343.86 L119.80 343.74 L120.30 343.62 L120.80 343.50 L121.30 343.38 L121.80 343.26 L122.30 343.14 L122.80 343.02 L123.30 342.90 L123.80 342.78 L124.30 342.66 L124.80 342.54 L125.30 342.42 L125.80 342.30 L126.30 342.18 L126.80 342.06 L127.30 341.93 L127.80 341.81 L128.30 341.69 L128.80 341.56 L129.30 341.44 L129.80 341.32 L130.30 341.19 L130.80 341.07 L131.30 340.94 L131.80 340.82 L132.30 340.69 L132.80 340.56 L133.30 340.44 L133.80 340.31 L134.30 340.18 L134.80 340.06 L135.30 339.93 L135.80 339.80 L136.30 339.67 L136.80 339.54 L137.30 339.42 L137.80 339.29 L138.30 339.16 L138.80 339.03 L139.30 338.90 L139.80 338.77 L140.30 338.64 L140.80 338.50 L141.30 338.37 L141.80 338.24 L142.30 338.11 L142.80 337.98 L143.30 337.84 L143.80 337.71 L144.30 337.58 L144.80 337.44 L145.30 337.31 L145.80 337.18 L146.30 337.04 L146.80 336.91 L147.30 336.77 L147.80 336.63 L148.30 336.50 L148.80 336.36 L149.30 336.22 L149.80 336.09 L150.30 335.95 L150.80 335.81 L151.30 335.67 L151.80 335.54 L152.30 335.40 L152.80 335.26 L153.30 335.12 L153.80 334.98 L154.30 334.84 L154.80 334.70 L155.30 334.56 L155.80 334.41 L156.30 334.27 L156.80 334.13 L157.30 333.99 L157.80 333.84 L158.30 333.70 L158.80 333.56 L159.30 333.41 L159.80 333.27 L160.30 333.13 L160.80 332.98 L161.30 332.83 L161.80 332.69 L162.30 332.54 L162.80 332.40 L163.30 332.25 L163.80 332.10 L164.30 331.95 L164.80 331.81 L165.30 331.66 L165.80 331.51 L166.30 331.36 L166.80 331.21 L167.30 331.06 L167.80 330.91 L168.30 330.76 L168.80 330.61 L169.30 330.46 L169.80 330.31 L170.30 330.15 L170.80 330.00 L171.30 329.85 L171.80 329.70 L172.30 329.54 L172.80 329.39 L173.30 329.23 L173.80 329.08 L174.30 328.92 L174.80 328.77 L175.30 328.61 L175.80 328.46 L176.30 328.30 L176.80 328.14 L177.30 327.99 L177.80 327.83 L178.30 327.67 L178.80 327.51 L179.30 327.35 L179.80 327.19 L180.30 327.03 L180.80 326.87 L181.30 326.71 L181.80 326.55 L182.30 326.39 L182.80 326.23 L183.30 326.06 L183.80 325.90 L184.30 325.74 L184.80 325.57 L185.30 325.41 L185.80 325.25 L186.30 325.08 L186.80 324.92 L187.30 324.75 L187.80 324.58 L188.30 324.42 L188.60 324.32" fill="none" stroke="#ff2a30" stroke-width="1.1"/></g>
<g><rect x="273" y="391.30" width="1" height="4.20" fill="#000" fill-opacity="0.09"/><rect x="274" y="391.30" width="1" height="4.20" fill="#000" fill-opacity="0.45"/><rect x="306" y="391.30" width="1" height="4.20" fill="#000" fill-opacity="0.01"/><rect x="307" y="391.30" width="1" height="4.20" fill="#000" fill-opacity="0.17"/><rect x="309" y="391.30" width="1" height="4.20" fill="#000" fill-opacity="0.17"/><rect x="310" y="391.30" width="8" height="4.20" fill="#000" fill-opacity="0.01"/><rect x="318" y="391.30" width="1" height="4.20" fill="#000" fill-opacity="0.42"/><rect x="320" y="391.30" width="1" height="4.20" fill="#000" fill-opacity="0.51"/><rect x="321" y="391.30" width="1" height="4.20" fill="#000" fill-opacity="0.03"/><rect x="322" y="391.30" width="1" height="4.20" fill="#000" fill-opacity="0.38"/><rect x="323" y="391.30" width="1" height="4.20" fill="#000" fill-opacity="0.33"/><rect x="326" y="391.30" width="3" height="4.20" fill="#000" fill-opacity="0.50"/><rect x="329" y="391.30" width="2" height="4.20" fill="#000" fill-opacity="0.20"/><rect x="331" y="391.30" width="6" height="4.20" fill="#000" fill-opacity="0.65"/><rect x="337" y="391.30" width="1" height="4.20" fill="#000" fill-opacity="0.82"/><rect x="338" y="391.30" width="56" height="4.20" fill="#000" fill-opacity="1.00"/><rect x="394" y="391.30" width="2" height="4.20" fill="#000" fill-opacity="0.60"/><rect x="396" y="391.30" width="1" height="4.20" fill="#000" fill-opacity="0.40"/><rect x="397" y="391.30" width="1" height="4.20" fill="#000" fill-opacity="0.81"/><rect x="398" y="391.30" width="2" height="4.20" fill="#000" fill-opacity="0.45"/><rect x="400" y="391.30" width="1" height="4.20" fill="#000" fill-opacity="0.05"/><rect x="401" y="391.30" width="1" height="4.20" fill="#000" fill-opacity="0.81"/><rect x="404" y="391.30" width="1" height="4.20" fill="#000" fill-opacity="0.04"/><rect x="405" y="391.30" width="1" height="4.20" fill="#000" fill-opacity="0.64"/><rect x="407" y="391.30" width="1" height="4.20" fill="#000" fill-opacity="0.09"/><rect x="408" y="391.30" width="1" height="4.20" fill="#000" fill-opacity="0.23"/><rect x="432" y="391.30" width="1" height="4.20" fill="#000" fill-opacity="0.21"/><rect x="433" y="391.30" width="267" height="4.20" fill="#000" fill-opacity="0.01"/><rect x="268.60" y="246.50" width="170.70" height="149.00" fill="none" stroke="#666" stroke-width="1"/><line x1="265.00" y1="380.30" x2="268.60" y2="380.30" stroke="#666" stroke-width="1"/><text transform="translate(260.00 380.30) rotate(-90) scale(1 1.12)" text-anchor="middle" font-family='"Liberation Sans", sans-serif' font-size="6.10" fill="#222" stroke="#222" stroke-width="0.18">0.00</text><line x1="265.00" y1="359.47" x2="268.60" y2="359.47" stroke="#666" stroke-width="1"/><text transform="translate(260.00 359.47) rotate(-90) scale(1 1.12)" text-anchor="middle" font-family='"Liberation Sans", sans-serif' font-size="6.10" fill="#222" stroke="#222" stroke-width="0.18">0.02</text><line x1="265.00" y1="338.64" x2="268.60" y2="338.64" stroke="#666" stroke-width="1"/><text transform="translate(260.00 338.64) rotate(-90) scale(1 1.12)" text-anchor="middle" font-family='"Liberation Sans", sans-serif' font-size="6.10" fill="#222" stroke="#222" stroke-width="0.18">0.04</text><line x1="265.00" y1="317.81" x2="268.60" y2="317.81" stroke="#666" stroke-width="1"/><text transform="translate(260.00 317.81) rotate(-90) scale(1 1.12)" text-anchor="middle" font-family='"Liberation Sans", sans-serif' font-size="6.10" fill="#222" stroke="#222" stroke-width="0.18">0.06</text><line x1="265.00" y1="296.98" x2="268.60" y2="296.98" stroke="#666" stroke-width="1"/><text transform="translate(260.00 296.98) rotate(-90) scale(1 1.12)" text-anchor="middle" font-family='"Liberation Sans", sans-serif' font-size="6.10" fill="#222" stroke="#222" stroke-width="0.18">0.08</text><line x1="265.00" y1="276.15" x2="268.60" y2="276.15" stroke="#666" stroke-width="1"/><text transform="translate(260.00 276.15) rotate(-90) scale(1 1.12)" text-anchor="middle" font-family='"Liberation Sans", sans-serif' font-size="6.10" fill="#222" stroke="#222" stroke-width="0.18">0.10</text><line x1="265.00" y1="255.32" x2="268.60" y2="255.32" stroke="#666" stroke-width="1"/><text transform="translate(260.00 255.32) rotate(-90) scale(1 1.12)" text-anchor="middle" font-family='"Liberation Sans", sans-serif' font-size="6.10" fill="#222" stroke="#222" stroke-width="0.18">0.12</text><line x1="290.00" y1="395.50" x2="290.00" y2="399.50" stroke="#666" stroke-width="1"/><text x="290.00" y="409.20" text-anchor="middle" font-family='"Liberation Sans", sans-serif' font-size="6.50" fill="#222" stroke="#222" stroke-width="0.18">2</text><line x1="312.34" y1="395.50" x2="312.34" y2="399.50" stroke="#666" stroke-width="1"/><text x="312.34" y="409.20" text-anchor="middle" font-family='"Liberation Sans", sans-serif' font-size="6.50" fill="#222" stroke="#222" stroke-width="0.18">4</text><line x1="334.68" y1="395.50" x2="334.68" y2="399.50" stroke="#666" stroke-width="1"/><text x="334.68" y="409.20" text-anchor="middle" font-family='"Liberation Sans", sans-serif' font-size="6.50" fill="#222" stroke="#222" stroke-width="0.18">6</text><line x1="357.02" y1="395.50" x2="357.02" y2="399.50" stroke="#666" stroke-width="1"/><text x="357.02" y="409.20" text-anchor="middle" font-family='"Liberation Sans", sans-serif' font-size="6.50" fill="#222" stroke="#222" stroke-width="0.18">8</text><line x1="379.36" y1="395.50" x2="379.36" y2="399.50" stroke="#666" stroke-width="1"/><text x="379.36" y="409.20" text-anchor="middle" font-family='"Liberation Sans", sans-serif' font-size="6.50" fill="#222" stroke="#222" stroke-width="0.18">10</text><line x1="401.70" y1="395.50" x2="401.70" y2="399.50" stroke="#666" stroke-width="1"/><text x="401.70" y="409.20" text-anchor="middle" font-family='"Liberation Sans", sans-serif' font-size="6.50" fill="#222" stroke="#222" stroke-width="0.18">12</text><line x1="424.04" y1="395.50" x2="424.04" y2="399.50" stroke="#666" stroke-width="1"/><text x="424.04" y="409.20" text-anchor="middle" font-family='"Liberation Sans", sans-serif' font-size="6.50" fill="#222" stroke="#222" stroke-width="0.18">14</text><text x="347.65" y="423.30" text-anchor="middle" font-family='"Liberation Sans", sans-serif' font-size="6.50" fill="#222" stroke="#222" stroke-width="0.06">SII</text><path d="M273.90 368.63 L274.40 368.61 L274.90 368.59 L275.40 368.57 L275.90 368.55 L276.40 368.52 L276.90 368.50 L277.40 368.48 L277.90 368.46 L278.40 368.43 L278.90 368.41 L279.40 368.39 L279.90 368.37 L280.40 368.35 L280.90 368.32 L281.40 368.30 L281.90 368.28 L282.40 368.26 L282.90 368.23 L283.40 368.21 L283.90 368.19 L284.40 368.16 L284.90 368.14 L285.40 368.12 L285.90 368.10 L286.40 368.07 L286.90 368.05 L287.40 368.03 L287.90 368.00 L288.40 367.98 L288.90 367.96 L289.40 367.93 L289.90 367.91 L290.40 367.89 L290.90 367.86 L291.40 367.84 L291.90 367.82 L292.40 367.79 L292.90 367.77 L293.40 367.75 L293.90 367.72 L294.40 367.70 L294.90 367.67 L295.40 367.65 L295.90 367.63 L296.40 367.60 L296.90 367.58 L297.40 367.55 L297.90 367.53 L298.40 367.51 L298.90 367.48 L299.40 367.46 L299.90 367.43 L300.40 367.41 L300.90 367.38 L301.40 367.36 L301.90 367.33 L302.40 367.31 L302.90 367.29 L303.40 367.26 L303.90 367.24 L304.40 367.21 L304.90 367.19 L305.40 367.16 L305.90 367.14 L306.40 367.11 L306.90 367.09 L307.40 367.06 L307.90 367.04 L308.40 367.01 L308.90 366.98 L309.40 366.96 L309.90 366.93 L310.40 366.91 L310.90 366.88 L311.40 366.86 L311.90 366.83 L312.40 366.80 L312.90 366.78 L313.40 366.75 L313.90 366.73 L314.40 366.70 L314.90 366.68 L315.40 366.65 L315.90 366.62 L316.40 366.60 L316.90 366.57 L317.40 366.54 L317.90 366.52 L318.40 366.49 L318.90 366.46 L319.40 366.44 L319.90 366.41 L320.40 366.38 L320.90 366.36 L321.40 366.33 L321.90 366.30 L322.40 366.28 L322.90 366.25 L323.40 366.22 L323.90 366.20 L324.40 366.17 L324.90 366.14 L325.40 366.11 L325.90 366.09 L326.40 366.06 L326.90 366.03 L327.40 366.00 L327.90 365.98 L328.40 365.95 L328.90 365.92 L329.40 365.89 L329.90 365.87 L330.40 365.84 L330.90 365.81 L331.40 365.78 L331.90 365.75 L332.40 365.73 L332.90 365.70 L333.40 365.67 L333.90 365.64 L334.40 365.61 L334.90 365.58 L335.40 365.55 L335.90 365.53 L336.40 365.50 L336.90 365.47 L337.40 365.44 L337.90 365.41 L338.40 365.38 L338.90 365.35 L339.40 365.32 L339.90 365.29 L340.40 365.27 L340.90 365.24 L341.40 365.21 L341.90 365.18 L342.40 365.15 L342.90 365.12 L343.40 365.09 L343.90 365.06 L344.40 365.03 L344.90 365.00 L345.40 364.97 L345.90 364.94 L346.40 364.91 L346.90 364.88 L347.40 364.85 L347.90 364.82 L348.40 364.79 L348.90 364.76 L349.40 364.73 L349.90 364.70 L350.40 364.67 L350.90 364.64 L351.40 364.61 L351.90 364.58 L352.40 364.55 L352.90 364.51 L353.40 364.48 L353.90 364.45 L354.40 364.42 L354.90 364.39 L355.40 364.36 L355.90 364.33 L356.40 364.30 L356.90 364.26 L357.40 364.23 L357.90 364.20 L358.40 364.17 L358.90 364.14 L359.40 364.11 L359.90 364.08 L360.40 364.04 L360.90 364.01 L361.40 363.98 L361.90 363.95 L362.40 363.91 L362.90 363.88 L363.40 363.85 L363.90 363.82 L364.40 363.79 L364.90 363.75 L365.40 363.72 L365.90 363.69 L366.40 363.65 L366.90 363.62 L367.40 363.59 L367.90 363.56 L368.40 363.52 L368.90 363.49 L369.40 363.46 L369.90 363.42 L370.40 363.39 L370.90 363.36 L371.40 363.32 L371.90 363.29 L372.40 363.26 L372.90 363.22 L373.40 363.19 L373.90 363.15 L374.40 363.12 L374.90 363.09 L375.40 363.05 L375.90 363.02 L376.40 362.98 L376.90 362.95 L377.40 362.92 L377.90 362.88 L378.40 362.85 L378.90 362.81 L379.40 362.78 L379.90 362.74 L380.40 362.71 L380.90 362.67 L381.40 362.64 L381.90 362.60 L382.40 362.57 L382.90 362.53 L383.40 362.50 L383.90 362.46 L384.40 362.43 L384.90 362.39 L385.40 362.35 L385.90 362.32 L386.40 362.28 L386.90 362.25 L387.40 362.21 L387.90 362.18 L388.40 362.14 L388.90 362.10 L389.40 362.07 L389.90 362.03 L390.40 361.99 L390.90 361.96 L391.40 361.92 L391.90 361.88 L392.40 361.85 L392.90 361.81 L393.40 361.77 L393.90 361.74 L394.40 361.70 L394.90 361.66 L395.40 361.63 L395.90 361.59 L396.40 361.55 L396.90 361.51 L397.40 361.48 L397.90 361.44 L398.40 361.40 L398.90 361.36 L399.40 361.32 L399.90 361.29 L400.40 361.25 L400.90 361.21 L401.40 361.17 L401.90 361.13 L402.40 361.10 L402.90 361.06 L403.40 361.02 L403.90 360.98 L404.40 360.94 L404.90 360.90 L405.40 360.86 L405.90 360.82 L406.40 360.78 L406.90 360.75 L407.40 360.71 L407.90 360.67 L408.40 360.63 L408.90 360.59 L409.40 360.55 L409.90 360.51 L410.40 360.47 L410.90 360.43 L411.40 360.39 L411.90 360.35 L412.40 360.31 L412.90 360.27 L413.40 360.23 L413.90 360.19 L414.40 360.15 L414.90 360.11 L415.40 360.07 L415.90 360.02 L416.40 359.98 L416.90 359.94 L417.40 359.90 L417.90 359.86 L418.40 359.82 L418.90 359.78 L419.40 359.74 L419.90 359.70 L420.40 359.65 L420.90 359.61 L421.40 359.57 L421.90 359.53 L422.40 359.49 L422.90 359.44 L423.40 359.40 L423.90 359.36 L424.40 359.32 L424.90 359.28 L425.40 359.23 L425.90 359.19 L426.40 359.15 L426.90 359.10 L427.40 359.06 L427.90 359.02 L428.40 358.98 L428.90 358.93 L429.40 358.89 L429.90 358.85 L430.40 358.80 L430.90 358.76 L431.40 358.71 L431.90 358.67 L432.40 358.63 L432.90 358.58 L433.30 358.55" fill="none" stroke="#6f6fff" stroke-width="0.9" stroke-dasharray="1.8 1" stroke-opacity="0.5"/><path d="M273.90 379.53 L274.40 379.48 L274.90 379.43 L275.40 379.38 L275.90 379.33 L276.40 379.29 L276.90 379.24 L277.40 379.19 L277.90 379.15 L278.40 379.10 L278.90 379.06 L279.40 379.01 L279.90 378.97 L280.40 378.93 L280.90 378.89 L281.40 378.85 L281.90 378.81 L282.40 378.77 L282.90 378.73 L283.40 378.69 L283.90 378.65 L284.40 378.62 L284.90 378.58 L285.40 378.54 L285.90 378.51 L286.40 378.47 L286.90 378.44 L287.40 378.40 L287.90 378.37 L288.40 378.33 L288.90 378.30 L289.40 378.27 L289.90 378.23 L290.40 378.20 L290.90 378.17 L291.40 378.13 L291.90 378.10 L292.40 378.07 L292.90 378.04 L293.40 378.01 L293.90 377.97 L294.40 377.94 L294.90 377.91 L295.40 377.88 L295.90 377.85 L296.40 377.82 L296.90 377.78 L297.40 377.75 L297.90 377.72 L298.40 377.69 L298.90 377.66 L299.40 377.63 L299.90 377.59 L300.40 377.56 L300.90 377.53 L301.40 377.50 L301.90 377.46 L302.40 377.43 L302.90 377.40 L303.40 377.36 L303.90 377.33 L304.40 377.29 L304.90 377.26 L305.40 377.22 L305.90 377.19 L306.40 377.15 L306.90 377.12 L307.40 377.08 L307.90 377.04 L308.40 377.00 L308.90 376.97 L309.40 376.93 L309.90 376.89 L310.40 376.85 L310.90 376.81 L311.40 376.77 L311.90 376.72 L312.40 376.68 L312.90 376.64 L313.40 376.59 L313.90 376.55 L314.40 376.50 L314.90 376.46 L315.40 376.41 L315.90 376.36 L316.40 376.31 L316.90 376.26 L317.40 376.21 L317.90 376.16 L318.40 376.11 L318.90 376.06 L319.40 376.00 L319.90 375.95 L320.40 375.89 L320.90 375.84 L321.40 375.78 L321.90 375.72 L322.40 375.66 L322.90 375.60 L323.40 375.54 L323.90 375.47 L324.40 375.41 L324.90 375.34 L325.40 375.28 L325.90 375.21 L326.40 375.14 L326.90 375.07 L327.40 374.99 L327.90 374.92 L328.40 374.85 L328.90 374.77 L329.40 374.69 L329.90 374.61 L330.40 374.53 L330.90 374.45 L331.40 374.37 L331.90 374.29 L332.40 374.20 L332.90 374.11 L333.40 374.02 L333.90 373.93 L334.40 373.84 L334.90 373.75 L335.40 373.65 L335.90 373.56 L336.40 373.46 L336.90 373.36 L337.40 373.25 L337.90 373.15 L338.40 373.05 L338.90 372.94 L339.40 372.83 L339.90 372.72 L340.40 372.61 L340.90 372.49 L341.40 372.38 L341.90 372.26 L342.40 372.14 L342.90 372.01 L343.40 371.89 L343.90 371.77 L344.40 371.64 L344.90 371.51 L345.40 371.38 L345.90 371.24 L346.40 371.11 L346.90 370.97 L347.40 370.83 L347.90 370.69 L348.40 370.54 L348.90 370.39 L349.40 370.25 L349.90 370.09 L350.40 369.94 L350.90 369.79 L351.40 369.63 L351.90 369.47 L352.40 369.31 L352.90 369.14 L353.40 368.97 L353.90 368.80 L354.40 368.63 L354.90 368.46 L355.40 368.28 L355.90 368.10 L356.40 367.92 L356.90 367.74 L357.40 367.55 L357.90 367.36 L358.40 367.17 L358.90 366.97 L359.40 366.78 L359.90 366.58 L360.40 366.37 L360.90 366.17 L361.40 365.96 L361.90 365.75 L362.40 365.54 L362.90 365.32 L363.40 365.10 L363.90 364.88 L364.40 364.65 L364.90 364.42 L365.40 364.19 L365.90 363.95 L366.40 363.71 L366.90 363.47 L367.40 363.22 L367.90 362.97 L368.40 362.72 L368.90 362.46 L369.40 362.20 L369.90 361.93 L370.40 361.66 L370.90 361.39 L371.40 361.11 L371.90 360.82 L372.40 360.54 L372.90 360.24 L373.40 359.95 L373.90 359.64 L374.40 359.34 L374.90 359.03 L375.40 358.71 L375.90 358.39 L376.40 358.06 L376.90 357.73 L377.40 357.40 L377.90 357.06 L378.40 356.71 L378.90 356.36 L379.40 356.00 L379.90 355.64 L380.40 355.27 L380.90 354.89 L381.40 354.51 L381.90 354.13 L382.40 353.73 L382.90 353.34 L383.40 352.93 L383.90 352.52 L384.40 352.10 L384.90 351.68 L385.40 351.25 L385.90 350.82 L386.40 350.38 L386.90 349.93 L387.40 349.47 L387.90 349.01 L388.40 348.54 L388.90 348.06 L389.40 347.58 L389.90 347.09 L390.40 346.59 L390.90 346.09 L391.40 345.58 L391.90 345.06 L392.40 344.53 L392.90 344.00 L393.40 343.46 L393.90 342.91 L394.40 342.35 L394.90 341.79 L395.40 341.22 L395.90 340.65 L396.40 340.07 L396.90 339.48 L397.40 338.89 L397.90 338.30 L398.40 337.71 L398.90 337.11 L399.40 336.51 L399.90 335.91 L400.40 335.32 L400.90 334.71 L401.40 334.11 L401.90 333.50 L402.40 332.88 L402.90 332.25 L403.40 331.60 L403.90 330.93 L404.40 330.24 L404.90 329.53 L405.40 328.79 L405.90 328.02 L406.40 327.22 L406.90 326.38 L407.40 325.51 L407.90 324.60 L408.40 323.64 L408.90 322.65 L409.40 321.61 L409.90 320.54 L410.40 319.44 L410.90 318.31 L411.40 317.18 L411.90 316.05 L412.40 314.92 L412.90 313.80 L413.40 312.71 L413.90 311.62 L414.40 310.55 L414.90 309.48 L415.40 308.40 L415.90 307.32 L416.40 306.23 L416.90 305.12 L417.40 304.00 L417.90 302.86 L418.40 301.71 L418.90 300.55 L419.40 299.37 L419.90 298.19 L420.40 296.99 L420.90 295.79 L421.40 294.59 L421.90 293.38 L422.40 292.16 L422.90 290.95 L423.40 289.73 L423.90 288.52 L424.40 287.31 L424.90 286.10 L425.40 284.90 L425.90 283.70 L426.40 282.52 L426.90 281.34 L427.40 280.17 L427.90 279.01 L428.40 277.87 L428.90 276.74 L429.40 275.63 L429.90 274.54 L430.40 273.46 L430.90 272.40 L431.40 271.37 L431.90 270.35 L432.40 269.37" fill="none" stroke="#6f6fff" stroke-width="0.9" stroke-dasharray="1.8 1" stroke-opacity="0.5"/><path d="M273.90 376.61 L274.40 376.58 L274.90 376.55 L275.40 376.51 L275.90 376.48 L276.40 376.45 L276.90 376.41 L277.40 376.38 L277.90 376.35 L278.40 376.31 L278.90 376.28 L279.40 376.24 L279.90 376.21 L280.40 376.18 L280.90 376.14 L281.40 376.11 L281.90 376.07 L282.40 376.04 L282.90 376.00 L283.40 375.97 L283.90 375.93 L284.40 375.90 L284.90 375.86 L285.40 375.83 L285.90 375.79 L286.40 375.76 L286.90 375.72 L287.40 375.69 L287.90 375.65 L288.40 375.61 L288.90 375.58 L289.40 375.54 L289.90 375.50 L290.40 375.47 L290.90 375.43 L291.40 375.39 L291.90 375.35 L292.40 375.31 L292.90 375.28 L293.40 375.24 L293.90 375.20 L294.40 375.16 L294.90 375.12 L295.40 375.08 L295.90 375.04 L296.40 375.00 L296.90 374.96 L297.40 374.92 L297.90 374.88 L298.40 374.84 L298.90 374.79 L299.40 374.75 L299.90 374.71 L300.40 374.67 L300.90 374.62 L301.40 374.58 L301.90 374.54 L302.40 374.49 L302.90 374.45 L303.40 374.40 L303.90 374.36 L304.40 374.31 L304.90 374.27 L305.40 374.22 L305.90 374.17 L306.40 374.13 L306.90 374.08 L307.40 374.03 L307.90 373.98 L308.40 373.93 L308.90 373.89 L309.40 373.84 L309.90 373.79 L310.40 373.73 L310.90 373.68 L311.40 373.63 L311.90 373.58 L312.40 373.53 L312.90 373.48 L313.40 373.42 L313.90 373.37 L314.40 373.31 L314.90 373.26 L315.40 373.20 L315.90 373.15 L316.40 373.09 L316.90 373.03 L317.40 372.98 L317.90 372.92 L318.40 372.86 L318.90 372.80 L319.40 372.74 L319.90 372.68 L320.40 372.62 L320.90 372.56 L321.40 372.50 L321.90 372.44 L322.40 372.37 L322.90 372.31 L323.40 372.24 L323.90 372.18 L324.40 372.11 L324.90 372.05 L325.40 371.98 L325.90 371.91 L326.40 371.85 L326.90 371.78 L327.40 371.71 L327.90 371.64 L328.40 371.57 L328.90 371.50 L329.40 371.42 L329.90 371.35 L330.40 371.28 L330.90 371.20 L331.40 371.13 L331.90 371.05 L332.40 370.98 L332.90 370.90 L333.40 370.82 L333.90 370.75 L334.40 370.67 L334.90 370.59 L335.40 370.51 L335.90 370.43 L336.40 370.34 L336.90 370.26 L337.40 370.18 L337.90 370.09 L338.40 370.01 L338.90 369.92 L339.40 369.84 L339.90 369.75 L340.40 369.66 L340.90 369.57 L341.40 369.48 L341.90 369.39 L342.40 369.30 L342.90 369.21 L343.40 369.12 L343.90 369.02 L344.40 368.93 L344.90 368.83 L345.40 368.73 L345.90 368.64 L346.40 368.54 L346.90 368.44 L347.40 368.34 L347.90 368.24 L348.40 368.14 L348.90 368.03 L349.40 367.93 L349.90 367.83 L350.40 367.72 L350.90 367.61 L351.40 367.51 L351.90 367.40 L352.40 367.29 L352.90 367.18 L353.40 367.07 L353.90 366.96 L354.40 366.84 L354.90 366.73 L355.40 366.62 L355.90 366.50 L356.40 366.38 L356.90 366.26 L357.40 366.15 L357.90 366.03 L358.40 365.91 L358.90 365.78 L359.40 365.66 L359.90 365.54 L360.40 365.41 L360.90 365.29 L361.40 365.16 L361.90 365.03 L362.40 364.90 L362.90 364.77 L363.40 364.64 L363.90 364.51 L364.40 364.37 L364.90 364.24 L365.40 364.10 L365.90 363.97 L366.40 363.83 L366.90 363.69 L367.40 363.55 L367.90 363.41 L368.40 363.27 L368.90 363.12 L369.40 362.98 L369.90 362.83 L370.40 362.69 L370.90 362.54 L371.40 362.39 L371.90 362.24 L372.40 362.09 L372.90 361.93 L373.40 361.78 L373.90 361.63 L374.40 361.47 L374.90 361.31 L375.40 361.15 L375.90 360.99 L376.40 360.83 L376.90 360.67 L377.40 360.50 L377.90 360.34 L378.40 360.17 L378.90 360.00 L379.40 359.83 L379.90 359.66 L380.40 359.48 L380.90 359.31 L381.40 359.13 L381.90 358.95 L382.40 358.77 L382.90 358.59 L383.40 358.41 L383.90 358.22 L384.40 358.04 L384.90 357.85 L385.40 357.66 L385.90 357.46 L386.40 357.27 L386.90 357.07 L387.40 356.87 L387.90 356.67 L388.40 356.47 L388.90 356.26 L389.40 356.06 L389.90 355.85 L390.40 355.64 L390.90 355.42 L391.40 355.21 L391.90 354.99 L392.40 354.77 L392.90 354.54 L393.40 354.32 L393.90 354.09 L394.40 353.86 L394.90 353.63 L395.40 353.40 L395.90 353.16 L396.40 352.92 L396.90 352.68 L397.40 352.44 L397.90 352.19 L398.40 351.94 L398.90 351.69 L399.40 351.44 L399.90 351.18 L400.40 350.92 L400.90 350.66 L401.40 350.40 L401.90 350.13 L402.40 349.86 L402.90 349.59 L403.40 349.32 L403.90 349.04 L404.40 348.77 L404.90 348.49 L405.40 348.20 L405.90 347.92 L406.40 347.63 L406.90 347.34 L407.40 347.04 L407.90 346.75 L408.40 346.45 L408.90 346.15 L409.40 345.85 L409.90 345.54 L410.40 345.23 L410.90 344.92 L411.40 344.61 L411.90 344.29 L412.40 343.98 L412.90 343.66 L413.40 343.34 L413.90 343.01 L414.40 342.69 L414.90 342.36 L415.40 342.04 L415.90 341.71 L416.40 341.37 L416.90 341.04 L417.40 340.71 L417.90 340.37 L418.40 340.03 L418.90 339.70 L419.40 339.36 L419.90 339.02 L420.40 338.68 L420.90 338.33 L421.40 337.99 L421.90 337.64 L422.40 337.30 L422.90 336.95 L423.40 336.61 L423.90 336.26 L424.40 335.91 L424.90 335.56 L425.40 335.21 L425.90 334.87 L426.40 334.52 L426.90 334.17 L427.40 333.82 L427.90 333.47 L428.40 333.12 L428.90 332.77 L429.40 332.42 L429.90 332.07 L430.40 331.72 L430.90 331.37 L431.40 331.02 L431.90 330.67 L432.40 330.32 L432.60 330.18" fill="none" stroke="#ff2a30" stroke-width="1.1"/></g>
<g><rect x="517" y="391.10" width="1" height="4.20" fill="#000" fill-opacity="0.06"/><rect x="518" y="391.10" width="1" height="4.20" fill="#000" fill-opacity="0.20"/><rect x="519" y="391.10" width="1" height="4.20" fill="#000" fill-opacity="0.08"/><rect x="524" y="391.10" width="1" height="4.20" fill="#000" fill-opacity="0.09"/><rect x="525" y="391.10" width="1" height="4.20" fill="#000" fill-opacity="0.45"/><rect x="529" y="391.10" width="1" height="4.20" fill="#000" fill-opacity="0.22"/><rect x="530" y="391.10" width="2" height="4.20" fill="#000" fill-opacity="0.25"/><rect x="532" y="391.10" width="1" height="4.20" fill="#000" fill-opacity="0.15"/><rect x="533" y="391.10" width="1" height="4.20" fill="#000" fill-opacity="0.08"/><rect x="534" y="391.10" width="1" height="4.20" fill="#000" fill-opacity="0.80"/><rect x="535" y="391.10" width="1" height="4.20" fill="#000" fill-opacity="0.22"/><rect x="536" y="391.10" width="1" height="4.20" fill="#000" fill-opacity="0.55"/><rect x="537" y="391.10" width="1" height="4.20" fill="#000" fill-opacity="0.48"/><rect x="538" y="391.10" width="1" height="4.20" fill="#000" fill-opacity="0.39"/><rect x="539" y="391.10" width="1" height="4.20" fill="#000" fill-opacity="0.50"/><rect x="540" y="391.10" width="1" height="4.20" fill="#000" fill-opacity="0.45"/><rect x="541" y="391.10" width="1" height="4.20" fill="#000" fill-opacity="0.56"/><rect x="542" y="391.10" width="6" height="4.20" fill="#000" fill-opacity="0.80"/><rect x="548" y="391.10" width="1" height="4.20" fill="#000" fill-opacity="0.75"/><rect x="549" y="391.10" width="1" height="4.20" fill="#000" fill-opacity="0.55"/><rect x="550" y="391.10" width="1" height="4.20" fill="#000" fill-opacity="0.70"/><rect x="551" y="391.10" width="3" height="4.20" fill="#000" fill-opacity="0.85"/><rect x="554" y="391.10" width="1" height="4.20" fill="#000" fill-opacity="0.55"/><rect x="555" y="391.10" width="80" height="4.20" fill="#000" fill-opacity="1.00"/><rect x="635" y="391.10" width="1" height="4.20" fill="#000" fill-opacity="0.73"/><rect x="636" y="391.10" width="1" height="4.20" fill="#000" fill-opacity="0.42"/><rect x="637" y="391.10" width="1" height="4.20" fill="#000" fill-opacity="0.72"/><rect x="638" y="391.10" width="1" height="4.20" fill="#000" fill-opacity="0.82"/><rect x="639" y="391.10" width="1" height="4.20" fill="#000" fill-opacity="0.58"/><rect x="640" y="391.10" width="1" height="4.20" fill="#000" fill-opacity="0.90"/><rect x="641" y="391.10" width="1" height="4.20" fill="#000" fill-opacity="0.65"/><rect x="642" y="391.10" width="1" height="4.20" fill="#000" fill-opacity="0.69"/><rect x="643" y="391.10" width="1" height="4.20" fill="#000" fill-opacity="0.90"/><rect x="644" y="391.10" width="1" height="4.20" fill="#000" fill-opacity="0.54"/><rect x="645" y="391.10" width="1" height="4.20" fill="#000" fill-opacity="0.62"/><rect x="646" y="391.10" width="1" height="4.20" fill="#000" fill-opacity="0.90"/><rect x="647" y="391.10" width="1" height="4.20" fill="#000" fill-opacity="0.58"/><rect x="648" y="391.10" width="1" height="4.20" fill="#000" fill-opacity="0.77"/><rect x="649" y="391.10" width="2" height="4.20" fill="#000" fill-opacity="0.25"/><rect x="652" y="391.10" width="2" height="4.20" fill="#000" fill-opacity="0.70"/><rect x="656" y="391.10" width="1" height="4.20" fill="#000" fill-opacity="0.30"/><rect x="657" y="391.10" width="1" height="4.20" fill="#000" fill-opacity="0.18"/><rect x="658" y="391.10" width="1" height="4.20" fill="#000" fill-opacity="0.16"/><rect x="659" y="391.10" width="1" height="4.20" fill="#000" fill-opacity="0.40"/><rect x="660" y="391.10" width="1" height="4.20" fill="#000" fill-opacity="0.28"/><rect x="670" y="391.10" width="1" height="4.20" fill="#000" fill-opacity="0.02"/><rect x="671" y="391.10" width="1" height="4.20" fill="#000" fill-opacity="0.38"/><rect x="674" y="391.10" width="1" height="4.20" fill="#000" fill-opacity="0.41"/><rect x="676" y="391.10" width="1" height="4.20" fill="#000" fill-opacity="0.34"/><rect x="677" y="391.10" width="1" height="4.20" fill="#000" fill-opacity="0.07"/><rect x="511.90" y="246.50" width="170.60" height="148.80" fill="none" stroke="#666" stroke-width="1"/><line x1="508.30" y1="247.90" x2="511.90" y2="247.90" stroke="#666" stroke-width="1"/><line x1="508.30" y1="267.24" x2="511.90" y2="267.24" stroke="#666" stroke-width="1"/><text transform="translate(504.00 267.24) rotate(-90) scale(1 1.12)" text-anchor="middle" font-family='"Liberation Sans", sans-serif' font-size="6.10" fill="#222" stroke="#222" stroke-width="0.18">0.035</text><line x1="508.30" y1="286.58" x2="511.90" y2="286.58" stroke="#666" stroke-width="1"/><line x1="508.30" y1="305.92" x2="511.90" y2="305.92" stroke="#666" stroke-width="1"/><text transform="translate(504.00 305.92) rotate(-90) scale(1 1.12)" text-anchor="middle" font-family='"Liberation Sans", sans-serif' font-size="6.10" fill="#222" stroke="#222" stroke-width="0.18">0.025</text><line x1="508.30" y1="325.26" x2="511.90" y2="325.26" stroke="#666" stroke-width="1"/><line x1="508.30" y1="344.60" x2="511.90" y2="344.60" stroke="#666" stroke-width="1"/><text transform="translate(504.00 344.60) rotate(-90) scale(1 1.12)" text-anchor="middle" font-family='"Liberation Sans", sans-serif' font-size="6.10" fill="#222" stroke="#222" stroke-width="0.18">0.015</text><line x1="508.30" y1="363.94" x2="511.90" y2="363.94" stroke="#666" stroke-width="1"/><line x1="508.30" y1="383.28" x2="511.90" y2="383.28" stroke="#666" stroke-width="1"/><text transform="translate(504.00 383.28) rotate(-90) scale(1 1.12)" text-anchor="middle" font-family='"Liberation Sans", sans-serif' font-size="6.10" fill="#222" stroke="#222" stroke-width="0.18">0.005</text><line x1="519.60" y1="395.30" x2="519.60" y2="399.30" stroke="#666" stroke-width="1"/><text x="519.60" y="409.00" text-anchor="middle" font-family='"Liberation Sans", sans-serif' font-size="6.50" fill="#222" stroke="#222" stroke-width="0.18"><tspan fill="#555" stroke="none">−</tspan>4</text><line x1="556.00" y1="395.30" x2="556.00" y2="399.30" stroke="#666" stroke-width="1"/><text x="556.00" y="409.00" text-anchor="middle" font-family='"Liberation Sans", sans-serif' font-size="6.50" fill="#222" stroke="#222" stroke-width="0.18"><tspan fill="#555" stroke="none">−</tspan>2</text><line x1="592.40" y1="395.30" x2="592.40" y2="399.30" stroke="#666" stroke-width="1"/><text x="592.40" y="409.00" text-anchor="middle" font-family='"Liberation Sans", sans-serif' font-size="6.50" fill="#222" stroke="#222" stroke-width="0.18">0</text><line x1="628.80" y1="395.30" x2="628.80" y2="399.30" stroke="#666" stroke-width="1"/><text x="628.80" y="409.00" text-anchor="middle" font-family='"Liberation Sans", sans-serif' font-size="6.50" fill="#222" stroke="#222" stroke-width="0.18">2</text><line x1="665.20" y1="395.30" x2="665.20" y2="399.30" stroke="#666" stroke-width="1"/><text x="665.20" y="409.00" text-anchor="middle" font-family='"Liberation Sans", sans-serif' font-size="6.50" fill="#222" stroke="#222" stroke-width="0.18">4</text><text x="590.90" y="423.10" text-anchor="middle" font-family='"Liberation Sans", sans-serif' font-size="6.50" fill="#222" stroke="#222" stroke-width="0.06">SIRI</text><path d="M518.30 268.35 L518.80 269.13 L519.30 269.90 L519.80 270.67 L520.30 271.44 L520.80 272.20 L521.30 272.96 L521.80 273.71 L522.30 274.46 L522.80 275.20 L523.30 275.94 L523.80 276.67 L524.30 277.40 L524.80 278.12 L525.30 278.84 L525.80 279.56 L526.30 280.27 L526.80 280.97 L527.30 281.67 L527.80 282.37 L528.30 283.06 L528.80 283.75 L529.30 284.43 L529.80 285.10 L530.30 285.78 L530.80 286.44 L531.30 287.11 L531.80 287.76 L532.30 288.42 L532.80 289.07 L533.30 289.71 L533.80 290.35 L534.30 290.98 L534.80 291.61 L535.30 292.24 L535.80 292.86 L536.30 293.47 L536.80 294.08 L537.30 294.69 L537.80 295.29 L538.30 295.88 L538.80 296.47 L539.30 297.06 L539.80 297.64 L540.30 298.22 L540.80 298.79 L541.30 299.36 L541.80 299.92 L542.30 300.47 L542.80 301.03 L543.30 301.58 L543.80 302.12 L544.30 302.66 L544.80 303.19 L545.30 303.73 L545.80 304.25 L546.30 304.77 L546.80 305.29 L547.30 305.81 L547.80 306.32 L548.30 306.82 L548.80 307.32 L549.30 307.82 L549.80 308.32 L550.30 308.81 L550.80 309.30 L551.30 309.78 L551.80 310.26 L552.30 310.74 L552.80 311.21 L553.30 311.68 L553.80 312.14 L554.30 312.61 L554.80 313.07 L555.30 313.53 L555.80 313.98 L556.30 314.43 L556.80 314.88 L557.30 315.33 L557.80 315.77 L558.30 316.21 L558.80 316.65 L559.30 317.09 L559.80 317.52 L560.30 317.95 L560.80 318.38 L561.30 318.81 L561.80 319.23 L562.30 319.66 L562.80 320.08 L563.30 320.50 L563.80 320.91 L564.30 321.33 L564.80 321.74 L565.30 322.15 L565.80 322.56 L566.30 322.97 L566.80 323.37 L567.30 323.77 L567.80 324.17 L568.30 324.57 L568.80 324.97 L569.30 325.36 L569.80 325.76 L570.30 326.15 L570.80 326.54 L571.30 326.92 L571.80 327.31 L572.30 327.69 L572.80 328.07 L573.30 328.45 L573.80 328.83 L574.30 329.21 L574.80 329.58 L575.30 329.95 L575.80 330.32 L576.30 330.69 L576.80 331.06 L577.30 331.42 L577.80 331.79 L578.30 332.15 L578.80 332.51 L579.30 332.87 L579.80 333.22 L580.30 333.58 L580.80 333.93 L581.30 334.29 L581.80 334.64 L582.30 334.98 L582.80 335.33 L583.30 335.68 L583.80 336.02 L584.30 336.36 L584.80 336.70 L585.30 337.04 L585.80 337.38 L586.30 337.72 L586.80 338.05 L587.30 338.38 L587.80 338.72 L588.30 339.05 L588.80 339.37 L589.30 339.70 L589.80 340.03 L590.30 340.35 L590.80 340.67 L591.30 340.99 L591.80 341.31 L592.30 341.63 L592.80 341.95 L593.30 342.26 L593.80 342.57 L594.30 342.89 L594.80 343.20 L595.30 343.51 L595.80 343.81 L596.30 344.12 L596.80 344.42 L597.30 344.73 L597.80 345.03 L598.30 345.33 L598.80 345.63 L599.30 345.93 L599.80 346.22 L600.30 346.52 L600.80 346.81 L601.30 347.11 L601.80 347.40 L602.30 347.69 L602.80 347.97 L603.30 348.26 L603.80 348.55 L604.30 348.83 L604.80 349.11 L605.30 349.40 L605.80 349.68 L606.30 349.96 L606.80 350.23 L607.30 350.51 L607.80 350.78 L608.30 351.06 L608.80 351.33 L609.30 351.60 L609.80 351.87 L610.30 352.14 L610.80 352.41 L611.30 352.68 L611.80 352.94 L612.30 353.21 L612.80 353.47 L613.30 353.73 L613.80 353.99 L614.30 354.25 L614.80 354.51 L615.30 354.77 L615.80 355.02 L616.30 355.28 L616.80 355.53 L617.30 355.78 L617.80 356.03 L618.30 356.28 L618.80 356.53 L619.30 356.78 L619.80 357.03 L620.30 357.27 L620.80 357.52 L621.30 357.76 L621.80 358.00 L622.30 358.24 L622.80 358.48 L623.30 358.72 L623.80 358.96 L624.30 359.20 L624.80 359.44 L625.30 359.67 L625.80 359.90 L626.30 360.14 L626.80 360.37 L627.30 360.60 L627.80 360.83 L628.30 361.06 L628.80 361.29 L629.30 361.51 L629.80 361.74 L630.30 361.96 L630.80 362.19 L631.30 362.41 L631.80 362.63 L632.30 362.86 L632.80 363.08 L633.30 363.30 L633.80 363.51 L634.30 363.73 L634.80 363.95 L635.30 364.16 L635.80 364.38 L636.30 364.59 L636.80 364.81 L637.30 365.02 L637.80 365.23 L638.30 365.44 L638.80 365.65 L639.30 365.86 L639.80 366.07 L640.30 366.27 L640.80 366.48 L641.30 366.68 L641.80 366.89 L642.30 367.09 L642.80 367.30 L643.30 367.50 L643.80 367.70 L644.30 367.90 L644.80 368.10 L645.30 368.30 L645.80 368.50 L646.30 368.70 L646.80 368.89 L647.30 369.09 L647.80 369.28 L648.30 369.48 L648.80 369.67 L649.30 369.87 L649.80 370.06 L650.30 370.25 L650.80 370.44 L651.30 370.63 L651.80 370.82 L652.30 371.01 L652.80 371.20 L653.30 371.39 L653.80 371.58 L654.30 371.76 L654.80 371.95 L655.30 372.13 L655.80 372.32 L656.30 372.50 L656.80 372.69 L657.30 372.87 L657.80 373.05 L658.30 373.23 L658.80 373.41 L659.30 373.59 L659.80 373.77 L660.30 373.95 L660.80 374.13 L661.30 374.31 L661.80 374.49 L662.30 374.66 L662.80 374.84 L663.30 375.02 L663.80 375.19 L664.30 375.37 L664.80 375.54 L665.30 375.72 L665.80 375.89 L666.30 376.06 L666.80 376.24 L667.30 376.41 L667.80 376.58 L668.30 376.75 L668.80 376.92 L669.30 377.09 L669.80 377.26 L670.30 377.43 L670.80 377.60 L671.30 377.77 L671.80 377.94 L672.30 378.11 L672.80 378.27 L673.30 378.44 L673.80 378.61 L674.30 378.78 L674.80 378.94 L675.30 379.11 L675.80 379.27 L676.30 379.44 L676.40 379.47" fill="none" stroke="#6f6fff" stroke-width="0.9" stroke-dasharray="1.8 1" stroke-opacity="0.5"/><path d="M518.30 362.61 L518.80 362.45 L519.30 362.29 L519.80 362.13 L520.30 361.97 L520.80 361.81 L521.30 361.65 L521.80 361.49 L522.30 361.33 L522.80 361.17 L523.30 361.02 L523.80 360.86 L524.30 360.70 L524.80 360.55 L525.30 360.39 L525.80 360.24 L526.30 360.08 L526.80 359.93 L527.30 359.77 L527.80 359.62 L528.30 359.47 L528.80 359.32 L529.30 359.16 L529.80 359.01 L530.30 358.86 L530.80 358.71 L531.30 358.56 L531.80 358.41 L532.30 358.26 L532.80 358.11 L533.30 357.96 L533.80 357.81 L534.30 357.66 L534.80 357.52 L535.30 357.37 L535.80 357.22 L536.30 357.08 L536.80 356.93 L537.30 356.78 L537.80 356.64 L538.30 356.49 L538.80 356.35 L539.30 356.20 L539.80 356.06 L540.30 355.92 L540.80 355.77 L541.30 355.63 L541.80 355.48 L542.30 355.34 L542.80 355.20 L543.30 355.06 L543.80 354.92 L544.30 354.77 L544.80 354.63 L545.30 354.49 L545.80 354.35 L546.30 354.21 L546.80 354.07 L547.30 353.93 L547.80 353.79 L548.30 353.65 L548.80 353.51 L549.30 353.37 L549.80 353.23 L550.30 353.09 L550.80 352.95 L551.30 352.81 L551.80 352.68 L552.30 352.54 L552.80 352.40 L553.30 352.26 L553.80 352.12 L554.30 351.99 L554.80 351.85 L555.30 351.71 L555.80 351.58 L556.30 351.44 L556.80 351.30 L557.30 351.17 L557.80 351.03 L558.30 350.89 L558.80 350.76 L559.30 350.62 L559.80 350.48 L560.30 350.35 L560.80 350.21 L561.30 350.08 L561.80 349.94 L562.30 349.81 L562.80 349.67 L563.30 349.53 L563.80 349.40 L564.30 349.26 L564.80 349.13 L565.30 348.99 L565.80 348.86 L566.30 348.72 L566.80 348.59 L567.30 348.45 L567.80 348.32 L568.30 348.18 L568.80 348.05 L569.30 347.91 L569.80 347.78 L570.30 347.64 L570.80 347.51 L571.30 347.37 L571.80 347.24 L572.30 347.10 L572.80 346.97 L573.30 346.83 L573.80 346.70 L574.30 346.56 L574.80 346.42 L575.30 346.29 L575.80 346.15 L576.30 346.02 L576.80 345.88 L577.30 345.75 L577.80 345.61 L578.30 345.48 L578.80 345.34 L579.30 345.20 L579.80 345.07 L580.30 344.93 L580.80 344.79 L581.30 344.66 L581.80 344.52 L582.30 344.38 L582.80 344.25 L583.30 344.11 L583.80 343.97 L584.30 343.84 L584.80 343.70 L585.30 343.56 L585.80 343.42 L586.30 343.28 L586.80 343.15 L587.30 343.01 L587.80 342.87 L588.30 342.73 L588.80 342.59 L589.30 342.45 L589.80 342.31 L590.30 342.17 L590.80 342.03 L591.30 341.89 L591.80 341.75 L592.30 341.61 L592.80 341.47 L593.30 341.33 L593.80 341.19 L594.30 341.05 L594.80 340.91 L595.30 340.76 L595.80 340.62 L596.30 340.48 L596.80 340.34 L597.30 340.19 L597.80 340.05 L598.30 339.91 L598.80 339.76 L599.30 339.62 L599.80 339.47 L600.30 339.33 L600.80 339.18 L601.30 339.04 L601.80 338.89 L602.30 338.74 L602.80 338.60 L603.30 338.45 L603.80 338.30 L604.30 338.15 L604.80 338.01 L605.30 337.86 L605.80 337.71 L606.30 337.56 L606.80 337.41 L607.30 337.26 L607.80 337.11 L608.30 336.96 L608.80 336.81 L609.30 336.66 L609.80 336.50 L610.30 336.35 L610.80 336.20 L611.30 336.04 L611.80 335.89 L612.30 335.74 L612.80 335.58 L613.30 335.43 L613.80 335.27 L614.30 335.11 L614.80 334.96 L615.30 334.80 L615.80 334.64 L616.30 334.48 L616.80 334.33 L617.30 334.17 L617.80 334.01 L618.30 333.85 L618.80 333.69 L619.30 333.52 L619.80 333.36 L620.30 333.20 L620.80 333.04 L621.30 332.87 L621.80 332.71 L622.30 332.55 L622.80 332.38 L623.30 332.22 L623.80 332.05 L624.30 331.88 L624.80 331.72 L625.30 331.55 L625.80 331.38 L626.30 331.21 L626.80 331.04 L627.30 330.87 L627.80 330.70 L628.30 330.53 L628.80 330.36 L629.30 330.18 L629.80 330.01 L630.30 329.84 L630.80 329.66 L631.30 329.49 L631.80 329.31 L632.30 329.13 L632.80 328.96 L633.30 328.78 L633.80 328.60 L634.30 328.42 L634.80 328.24 L635.30 328.06 L635.80 327.88 L636.30 327.70 L636.80 327.51 L637.30 327.33 L637.80 327.15 L638.30 326.96 L638.80 326.78 L639.30 326.59 L639.80 326.40 L640.30 326.21 L640.80 326.03 L641.30 325.84 L641.80 325.65 L642.30 325.46 L642.80 325.26 L643.30 325.07 L643.80 324.88 L644.30 324.68 L644.80 324.49 L645.30 324.29 L645.80 324.10 L646.30 323.90 L646.80 323.70 L647.30 323.50 L647.80 323.30 L648.30 323.10 L648.80 322.90 L649.30 322.70 L649.80 322.50 L650.30 322.29 L650.80 322.09 L651.30 321.88 L651.80 321.68 L652.30 321.47 L652.80 321.26 L653.30 321.05 L653.80 320.84 L654.30 320.63 L654.80 320.42 L655.30 320.21 L655.80 319.99 L656.30 319.78 L656.80 319.56 L657.30 319.35 L657.80 319.13 L658.30 318.91 L658.80 318.69 L659.30 318.47 L659.80 318.25 L660.30 318.03 L660.80 317.81 L661.30 317.58 L661.80 317.36 L662.30 317.13 L662.80 316.91 L663.30 316.68 L663.80 316.45 L664.30 316.22 L664.80 315.99 L665.30 315.76 L665.80 315.53 L666.30 315.29 L666.80 315.06 L667.30 314.82 L667.80 314.58 L668.30 314.35 L668.80 314.11 L669.30 313.87 L669.80 313.63 L670.30 313.39 L670.80 313.14 L671.30 312.90 L671.80 312.65 L672.30 312.41 L672.80 312.16 L673.30 311.91 L673.80 311.66 L674.30 311.41 L674.80 311.16 L675.30 310.91 L675.50 310.80" fill="none" stroke="#6f6fff" stroke-width="0.9" stroke-dasharray="1.8 1" stroke-opacity="0.5"/><path d="M518.10 328.50 L518.60 328.59 L519.10 328.67 L519.60 328.76 L520.10 328.85 L520.60 328.94 L521.10 329.03 L521.60 329.12 L522.10 329.20 L522.60 329.29 L523.10 329.38 L523.60 329.47 L524.10 329.56 L524.60 329.65 L525.10 329.73 L525.60 329.82 L526.10 329.91 L526.60 330.00 L527.10 330.09 L527.60 330.18 L528.10 330.26 L528.60 330.35 L529.10 330.44 L529.60 330.53 L530.10 330.62 L530.60 330.71 L531.10 330.79 L531.60 330.88 L532.10 330.97 L532.60 331.06 L533.10 331.15 L533.60 331.23 L534.10 331.32 L534.60 331.41 L535.10 331.50 L535.60 331.59 L536.10 331.67 L536.60 331.76 L537.10 331.85 L537.60 331.94 L538.10 332.03 L538.60 332.11 L539.10 332.20 L539.60 332.29 L540.10 332.38 L540.60 332.47 L541.10 332.55 L541.60 332.64 L542.10 332.73 L542.60 332.82 L543.10 332.91 L543.60 332.99 L544.10 333.08 L544.60 333.17 L545.10 333.26 L545.60 333.35 L546.10 333.43 L546.60 333.52 L547.10 333.61 L547.60 333.70 L548.10 333.78 L548.60 333.87 L549.10 333.96 L549.60 334.05 L550.10 334.13 L550.60 334.22 L551.10 334.31 L551.60 334.40 L552.10 334.49 L552.60 334.57 L553.10 334.66 L553.60 334.75 L554.10 334.84 L554.60 334.92 L555.10 335.01 L555.60 335.10 L556.10 335.19 L556.60 335.27 L557.10 335.36 L557.60 335.45 L558.10 335.54 L558.60 335.62 L559.10 335.71 L559.60 335.80 L560.10 335.88 L560.60 335.97 L561.10 336.06 L561.60 336.15 L562.10 336.23 L562.60 336.32 L563.10 336.41 L563.60 336.50 L564.10 336.58 L564.60 336.67 L565.10 336.76 L565.60 336.85 L566.10 336.93 L566.60 337.02 L567.10 337.11 L567.60 337.19 L568.10 337.28 L568.60 337.37 L569.10 337.46 L569.60 337.54 L570.10 337.63 L570.60 337.72 L571.10 337.80 L571.60 337.89 L572.10 337.98 L572.60 338.07 L573.10 338.15 L573.60 338.24 L574.10 338.33 L574.60 338.41 L575.10 338.50 L575.60 338.59 L576.10 338.67 L576.60 338.76 L577.10 338.85 L577.60 338.93 L578.10 339.02 L578.60 339.11 L579.10 339.20 L579.60 339.28 L580.10 339.37 L580.60 339.46 L581.10 339.54 L581.60 339.63 L582.10 339.72 L582.60 339.80 L583.10 339.89 L583.60 339.98 L584.10 340.06 L584.60 340.15 L585.10 340.24 L585.60 340.32 L586.10 340.41 L586.60 340.50 L587.10 340.58 L587.60 340.67 L588.10 340.76 L588.60 340.84 L589.10 340.93 L589.60 341.02 L590.10 341.10 L590.60 341.19 L591.10 341.28 L591.60 341.36 L592.10 341.45 L592.60 341.54 L593.10 341.62 L593.60 341.71 L594.10 341.80 L594.60 341.88 L595.10 341.97 L595.60 342.05 L596.10 342.14 L596.60 342.23 L597.10 342.31 L597.60 342.40 L598.10 342.49 L598.60 342.57 L599.10 342.66 L599.60 342.75 L600.10 342.83 L600.60 342.92 L601.10 343.00 L601.60 343.09 L602.10 343.18 L602.60 343.26 L603.10 343.35 L603.60 343.44 L604.10 343.52 L604.60 343.61 L605.10 343.69 L605.60 343.78 L606.10 343.87 L606.60 343.95 L607.10 344.04 L607.60 344.13 L608.10 344.21 L608.60 344.30 L609.10 344.38 L609.60 344.47 L610.10 344.56 L610.60 344.64 L611.10 344.73 L611.60 344.81 L612.10 344.90 L612.60 344.99 L613.10 345.07 L613.60 345.16 L614.10 345.24 L614.60 345.33 L615.10 345.42 L615.60 345.50 L616.10 345.59 L616.60 345.67 L617.10 345.76 L617.60 345.84 L618.10 345.93 L618.60 346.02 L619.10 346.10 L619.60 346.19 L620.10 346.27 L620.60 346.36 L621.10 346.44 L621.60 346.53 L622.10 346.62 L622.60 346.70 L623.10 346.79 L623.60 346.87 L624.10 346.96 L624.60 347.04 L625.10 347.13 L625.60 347.22 L626.10 347.30 L626.60 347.39 L627.10 347.47 L627.60 347.56 L628.10 347.64 L628.60 347.73 L629.10 347.82 L629.60 347.90 L630.10 347.99 L630.60 348.07 L631.10 348.16 L631.60 348.24 L632.10 348.33 L632.60 348.41 L633.10 348.50 L633.60 348.58 L634.10 348.67 L634.60 348.76 L635.10 348.84 L635.60 348.93 L636.10 349.01 L636.60 349.10 L637.10 349.18 L637.60 349.27 L638.10 349.35 L638.60 349.44 L639.10 349.52 L639.60 349.61 L640.10 349.69 L640.60 349.78 L641.10 349.86 L641.60 349.95 L642.10 350.03 L642.60 350.12 L643.10 350.20 L643.60 350.29 L644.10 350.37 L644.60 350.46 L645.10 350.55 L645.60 350.63 L646.10 350.72 L646.60 350.80 L647.10 350.89 L647.60 350.97 L648.10 351.06 L648.60 351.14 L649.10 351.23 L649.60 351.31 L650.10 351.40 L650.60 351.48 L651.10 351.57 L651.60 351.65 L652.10 351.74 L652.60 351.82 L653.10 351.91 L653.60 351.99 L654.10 352.07 L654.60 352.16 L655.10 352.24 L655.60 352.33 L656.10 352.41 L656.60 352.50 L657.10 352.58 L657.60 352.67 L658.10 352.75 L658.60 352.84 L659.10 352.92 L659.60 353.01 L660.10 353.09 L660.60 353.18 L661.10 353.26 L661.60 353.35 L662.10 353.43 L662.60 353.52 L663.10 353.60 L663.60 353.68 L664.10 353.77 L664.60 353.85 L665.10 353.94 L665.60 354.02 L666.10 354.11 L666.60 354.19 L667.10 354.28 L667.60 354.36 L668.10 354.45 L668.60 354.53 L669.10 354.61 L669.60 354.70 L670.10 354.78 L670.60 354.87 L671.10 354.95 L671.60 355.04 L672.10 355.12 L672.60 355.21 L673.10 355.29 L673.60 355.37 L674.10 355.46 L674.60 355.54 L675.10 355.63 L675.60 355.71 L676.10 355.80 L676.60 355.88 L676.70 355.90" fill="none" stroke="#ff2a30" stroke-width="1.1"/></g>
</svg>
</body></html>
